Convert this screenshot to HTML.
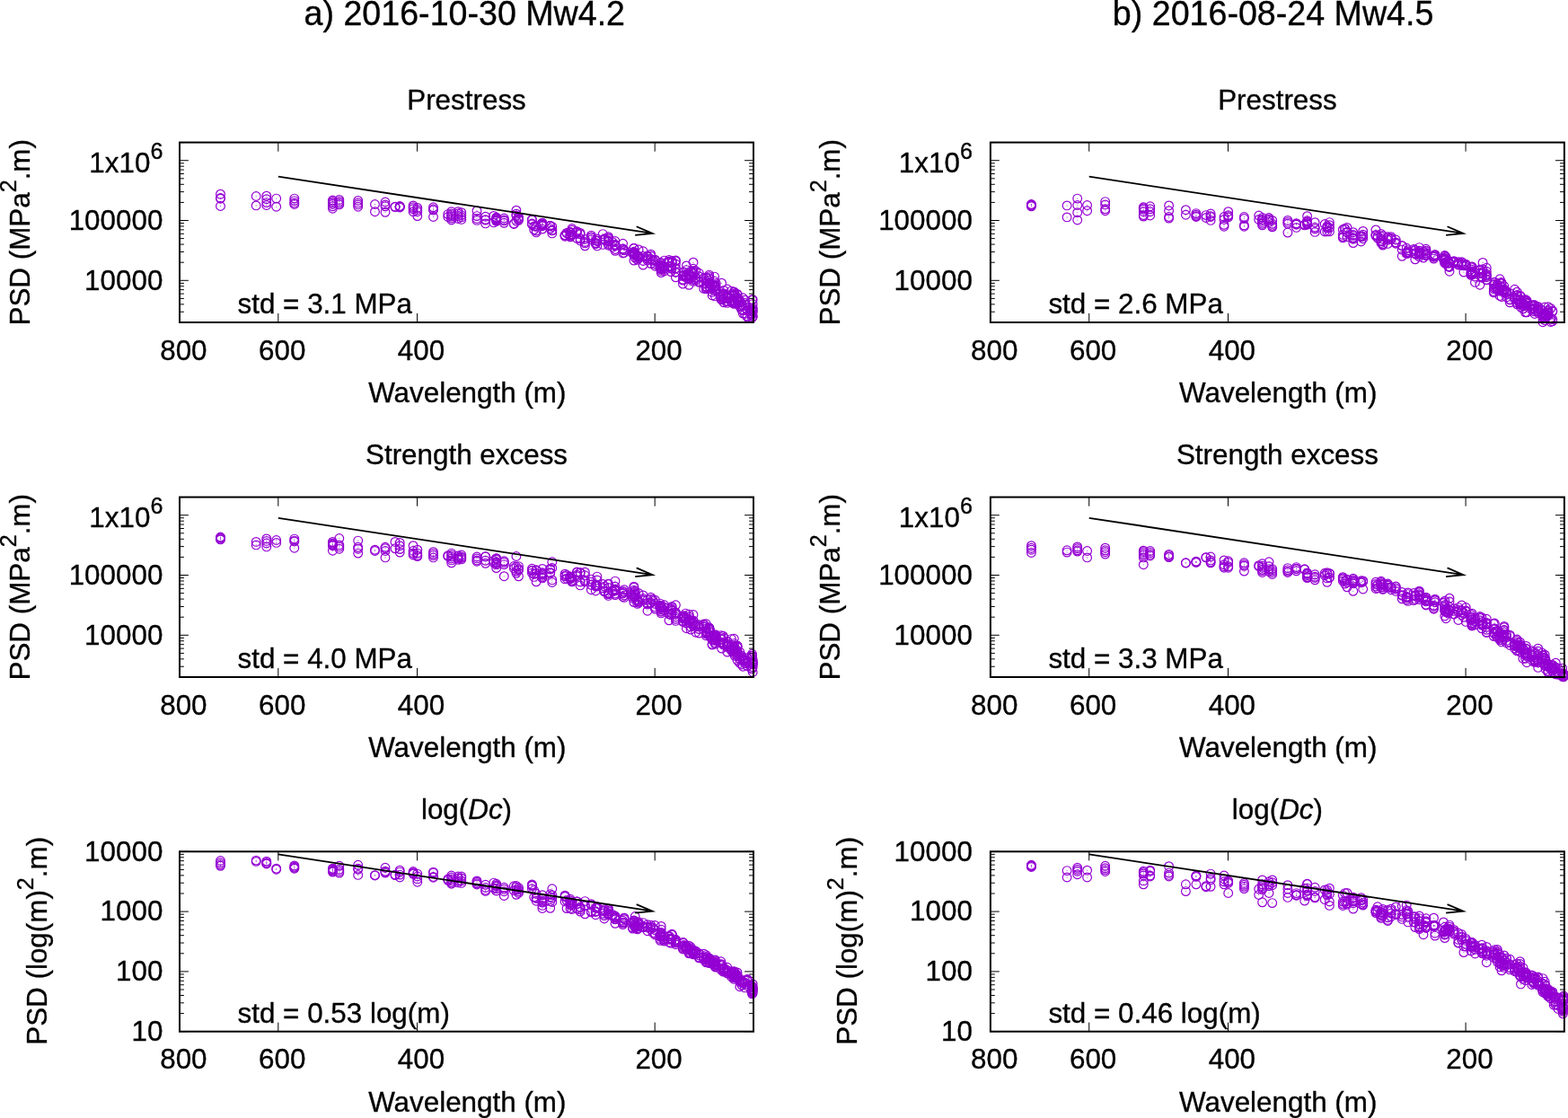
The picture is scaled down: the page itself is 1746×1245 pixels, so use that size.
<!DOCTYPE html>
<html lang="en"><head><meta charset="utf-8"><title>PSD of prestress, strength excess and log(Dc)</title>
<style>html,body{margin:0;padding:0;background:#fff}body{width:1746px;height:1245px;overflow:hidden}svg{display:block}.t{stroke:#000;stroke-width:.35px}</style>
</head><body>
<svg width="1746" height="1245" viewBox="0 0 1746 1245" font-family="'Liberation Sans', sans-serif" fill="#000">
<defs><g id="c"><circle r="4.85" fill="none" stroke="#9400d3" stroke-width="1.2"/><circle r="0.55" fill="#9400d3" opacity="0.8"/></g></defs>
<rect width="1746" height="1245" fill="#fff"/>
<text transform="translate(517.30 28.10) scale(0.99 1)" font-size="38.0" text-anchor="middle" class="t">a) 2016-10-30 Mw4.2</text>
<text transform="translate(1417.60 28.10) scale(0.99 1)" font-size="38.0" text-anchor="middle" class="t">b) 2016-08-24 Mw4.5</text>
<path d="M309.82 359.00v-10.1M309.82 158.60v10.1M464.59 359.00v-10.1M464.59 158.60v10.1M729.18 359.00v-10.1M729.18 158.60v10.1M200.00 359.00h4.9M839.00 359.00h-4.9M200.00 347.24h4.9M839.00 347.24h-4.9M200.00 338.89h4.9M839.00 338.89h-4.9M200.00 332.42h4.9M839.00 332.42h-4.9M200.00 327.13h4.9M839.00 327.13h-4.9M200.00 322.66h4.9M839.00 322.66h-4.9M200.00 318.78h4.9M839.00 318.78h-4.9M200.00 315.37h4.9M839.00 315.37h-4.9M200.00 312.31h9.9M839.00 312.31h-9.9M200.00 292.20h4.9M839.00 292.20h-4.9M200.00 280.44h4.9M839.00 280.44h-4.9M200.00 272.09h4.9M839.00 272.09h-4.9M200.00 265.62h4.9M839.00 265.62h-4.9M200.00 260.33h4.9M839.00 260.33h-4.9M200.00 255.86h4.9M839.00 255.86h-4.9M200.00 251.98h4.9M839.00 251.98h-4.9M200.00 248.57h4.9M839.00 248.57h-4.9M200.00 245.51h9.9M839.00 245.51h-9.9M200.00 225.40h4.9M839.00 225.40h-4.9M200.00 213.64h4.9M839.00 213.64h-4.9M200.00 205.29h4.9M839.00 205.29h-4.9M200.00 198.82h4.9M839.00 198.82h-4.9M200.00 193.53h4.9M839.00 193.53h-4.9M200.00 189.06h4.9M839.00 189.06h-4.9M200.00 185.18h4.9M839.00 185.18h-4.9M200.00 181.77h4.9M839.00 181.77h-4.9M200.00 178.71h9.9M839.00 178.71h-9.9M200.00 158.60h4.9M839.00 158.60h-4.9" stroke="#000" stroke-width="1" fill="none"/>
<g><use href="#c" x="245.5" y="216.2"/><use href="#c" x="245.5" y="220.5"/><use href="#c" x="245.5" y="221.2"/><use href="#c" x="245.5" y="229.5"/><use href="#c" x="285.2" y="218.5"/><use href="#c" x="285.2" y="228.9"/><use href="#c" x="296.8" y="218.2"/><use href="#c" x="296.8" y="221.7"/><use href="#c" x="296.8" y="225.6"/><use href="#c" x="296.8" y="228.5"/><use href="#c" x="307.7" y="221.1"/><use href="#c" x="307.7" y="230.2"/><use href="#c" x="327.8" y="221.1"/><use href="#c" x="327.8" y="223.6"/><use href="#c" x="327.8" y="225.9"/><use href="#c" x="327.8" y="227.5"/><use href="#c" x="370.4" y="223.0"/><use href="#c" x="370.4" y="224.4"/><use href="#c" x="370.4" y="225.9"/><use href="#c" x="370.4" y="227.5"/><use href="#c" x="370.4" y="229.8"/><use href="#c" x="370.4" y="232.2"/><use href="#c" x="377.8" y="222.4"/><use href="#c" x="377.8" y="224.4"/><use href="#c" x="377.8" y="226.3"/><use href="#c" x="377.8" y="227.9"/><use href="#c" x="398.7" y="223.4"/><use href="#c" x="398.7" y="225.9"/><use href="#c" x="398.7" y="227.9"/><use href="#c" x="398.7" y="230.2"/><use href="#c" x="417.5" y="227.5"/><use href="#c" x="417.5" y="235.7"/><use href="#c" x="429.0" y="225.0"/><use href="#c" x="429.0" y="227.9"/><use href="#c" x="429.0" y="229.8"/><use href="#c" x="429.0" y="236.3"/><use href="#c" x="440.0" y="230.2"/><use href="#c" x="440.0" y="230.6"/><use href="#c" x="445.2" y="229.5"/><use href="#c" x="445.2" y="230.0"/><use href="#c" x="445.2" y="230.4"/><use href="#c" x="445.2" y="231.0"/><use href="#c" x="460.1" y="228.9"/><use href="#c" x="460.1" y="230.8"/><use href="#c" x="460.1" y="232.8"/><use href="#c" x="460.1" y="235.7"/><use href="#c" x="464.8" y="231.4"/><use href="#c" x="464.8" y="233.7"/><use href="#c" x="464.8" y="235.7"/><use href="#c" x="464.8" y="240.6"/><use href="#c" x="482.5" y="230.8"/><use href="#c" x="482.5" y="232.8"/><use href="#c" x="482.5" y="234.1"/><use href="#c" x="482.5" y="241.5"/><use href="#c" x="498.8" y="238.6"/><use href="#c" x="498.8" y="241.5"/><use href="#c" x="502.7" y="235.7"/><use href="#c" x="502.7" y="238.0"/><use href="#c" x="502.7" y="239.6"/><use href="#c" x="502.7" y="241.1"/><use href="#c" x="502.7" y="243.1"/><use href="#c" x="502.7" y="245.0"/><use href="#c" x="510.1" y="235.7"/><use href="#c" x="510.1" y="238.0"/><use href="#c" x="510.1" y="240.6"/><use href="#c" x="510.1" y="243.5"/><use href="#c" x="513.8" y="236.7"/><use href="#c" x="513.8" y="239.6"/><use href="#c" x="513.8" y="241.9"/><use href="#c" x="513.8" y="244.4"/><use href="#c" x="531.0" y="234.7"/><use href="#c" x="531.0" y="240.6"/><use href="#c" x="531.0" y="243.5"/><use href="#c" x="531.0" y="245.4"/><use href="#c" x="540.6" y="248.9"/><use href="#c" x="540.6" y="241.2"/><use href="#c" x="540.6" y="244.6"/><use href="#c" x="540.6" y="245.1"/><use href="#c" x="549.8" y="240.4"/><use href="#c" x="549.8" y="247.9"/><use href="#c" x="552.7" y="245.1"/><use href="#c" x="552.7" y="244.6"/><use href="#c" x="552.7" y="242.7"/><use href="#c" x="552.7" y="246.3"/><use href="#c" x="552.7" y="242.0"/><use href="#c" x="552.7" y="245.6"/><use href="#c" x="552.7" y="243.7"/><use href="#c" x="552.7" y="243.5"/><use href="#c" x="561.3" y="244.9"/><use href="#c" x="561.3" y="248.3"/><use href="#c" x="561.3" y="243.0"/><use href="#c" x="561.3" y="245.9"/><use href="#c" x="572.3" y="249.5"/><use href="#c" x="572.3" y="248.9"/><use href="#c" x="574.9" y="234.2"/><use href="#c" x="574.9" y="246.2"/><use href="#c" x="574.9" y="238.2"/><use href="#c" x="574.9" y="240.2"/><use href="#c" x="577.5" y="244.2"/><use href="#c" x="577.5" y="245.3"/><use href="#c" x="577.5" y="241.4"/><use href="#c" x="577.5" y="243.0"/><use href="#c" x="592.4" y="244.4"/><use href="#c" x="592.4" y="249.0"/><use href="#c" x="592.4" y="245.0"/><use href="#c" x="592.4" y="249.8"/><use href="#c" x="594.7" y="255.8"/><use href="#c" x="594.7" y="251.9"/><use href="#c" x="597.1" y="257.1"/><use href="#c" x="597.1" y="251.4"/><use href="#c" x="597.1" y="252.4"/><use href="#c" x="597.1" y="258.9"/><use href="#c" x="603.9" y="249.8"/><use href="#c" x="603.9" y="251.7"/><use href="#c" x="603.9" y="251.3"/><use href="#c" x="603.9" y="255.1"/><use href="#c" x="603.9" y="248.1"/><use href="#c" x="603.9" y="248.4"/><use href="#c" x="603.9" y="250.2"/><use href="#c" x="603.9" y="249.5"/><use href="#c" x="612.7" y="251.5"/><use href="#c" x="612.7" y="254.6"/><use href="#c" x="612.7" y="251.4"/><use href="#c" x="612.7" y="251.4"/><use href="#c" x="614.8" y="256.9"/><use href="#c" x="614.8" y="259.9"/><use href="#c" x="614.8" y="252.4"/><use href="#c" x="614.8" y="256.3"/><use href="#c" x="629.1" y="262.2"/><use href="#c" x="629.1" y="262.0"/><use href="#c" x="629.1" y="261.8"/><use href="#c" x="629.1" y="263.2"/><use href="#c" x="631.1" y="259.4"/><use href="#c" x="631.1" y="259.7"/><use href="#c" x="635.0" y="258.5"/><use href="#c" x="635.0" y="261.8"/><use href="#c" x="635.0" y="258.7"/><use href="#c" x="635.0" y="263.1"/><use href="#c" x="635.0" y="264.0"/><use href="#c" x="635.0" y="259.0"/><use href="#c" x="636.9" y="254.5"/><use href="#c" x="636.9" y="260.8"/><use href="#c" x="636.9" y="261.7"/><use href="#c" x="636.9" y="256.3"/><use href="#c" x="642.4" y="265.4"/><use href="#c" x="642.4" y="259.2"/><use href="#c" x="642.4" y="258.3"/><use href="#c" x="642.4" y="257.6"/><use href="#c" x="646.1" y="265.8"/><use href="#c" x="646.1" y="268.0"/><use href="#c" x="646.1" y="260.8"/><use href="#c" x="646.1" y="259.4"/><use href="#c" x="651.4" y="266.4"/><use href="#c" x="651.4" y="269.5"/><use href="#c" x="651.4" y="273.8"/><use href="#c" x="651.4" y="270.9"/><use href="#c" x="658.3" y="264.7"/><use href="#c" x="658.3" y="263.6"/><use href="#c" x="658.3" y="262.1"/><use href="#c" x="658.3" y="266.8"/><use href="#c" x="663.3" y="270.9"/><use href="#c" x="663.3" y="271.7"/><use href="#c" x="663.3" y="267.7"/><use href="#c" x="663.3" y="270.4"/><use href="#c" x="664.9" y="268.3"/><use href="#c" x="664.9" y="273.9"/><use href="#c" x="664.9" y="268.2"/><use href="#c" x="664.9" y="266.0"/><use href="#c" x="671.3" y="260.6"/><use href="#c" x="671.3" y="272.4"/><use href="#c" x="672.9" y="266.5"/><use href="#c" x="672.9" y="267.2"/><use href="#c" x="672.9" y="266.6"/><use href="#c" x="672.9" y="265.9"/><use href="#c" x="677.5" y="267.8"/><use href="#c" x="677.5" y="271.6"/><use href="#c" x="677.5" y="263.7"/><use href="#c" x="677.5" y="265.1"/><use href="#c" x="677.5" y="268.3"/><use href="#c" x="677.5" y="269.2"/><use href="#c" x="677.5" y="273.2"/><use href="#c" x="677.5" y="265.7"/><use href="#c" x="682.1" y="275.2"/><use href="#c" x="682.1" y="269.7"/><use href="#c" x="685.0" y="272.4"/><use href="#c" x="685.0" y="279.3"/><use href="#c" x="685.0" y="268.5"/><use href="#c" x="685.0" y="273.7"/><use href="#c" x="685.0" y="277.5"/><use href="#c" x="685.0" y="273.4"/><use href="#c" x="685.0" y="273.7"/><use href="#c" x="685.0" y="272.5"/><use href="#c" x="693.6" y="276.9"/><use href="#c" x="693.6" y="277.4"/><use href="#c" x="693.6" y="282.0"/><use href="#c" x="693.6" y="271.3"/><use href="#c" x="695.0" y="278.6"/><use href="#c" x="695.0" y="281.4"/><use href="#c" x="695.0" y="278.7"/><use href="#c" x="695.0" y="278.5"/><use href="#c" x="704.5" y="282.2"/><use href="#c" x="704.5" y="282.1"/><use href="#c" x="705.9" y="290.1"/><use href="#c" x="705.9" y="280.8"/><use href="#c" x="705.9" y="276.1"/><use href="#c" x="705.9" y="276.7"/><use href="#c" x="705.9" y="281.1"/><use href="#c" x="705.9" y="280.3"/><use href="#c" x="705.9" y="282.4"/><use href="#c" x="705.9" y="283.6"/><use href="#c" x="707.2" y="284.0"/><use href="#c" x="707.2" y="287.1"/><use href="#c" x="707.2" y="283.2"/><use href="#c" x="707.2" y="282.0"/><use href="#c" x="709.8" y="285.8"/><use href="#c" x="709.8" y="289.3"/><use href="#c" x="709.8" y="284.8"/><use href="#c" x="709.8" y="285.4"/><use href="#c" x="711.1" y="285.2"/><use href="#c" x="711.1" y="287.9"/><use href="#c" x="711.1" y="286.0"/><use href="#c" x="711.1" y="277.9"/><use href="#c" x="716.1" y="279.8"/><use href="#c" x="716.1" y="285.5"/><use href="#c" x="716.1" y="290.5"/><use href="#c" x="716.1" y="295.1"/><use href="#c" x="721.0" y="284.9"/><use href="#c" x="721.0" y="290.0"/><use href="#c" x="721.0" y="286.2"/><use href="#c" x="721.0" y="288.3"/><use href="#c" x="724.7" y="293.6"/><use href="#c" x="724.7" y="284.9"/><use href="#c" x="724.7" y="288.4"/><use href="#c" x="724.7" y="283.2"/><use href="#c" x="727.0" y="290.4"/><use href="#c" x="727.0" y="289.5"/><use href="#c" x="729.4" y="296.2"/><use href="#c" x="729.4" y="289.1"/><use href="#c" x="729.4" y="289.9"/><use href="#c" x="729.4" y="294.2"/><use href="#c" x="735.1" y="297.7"/><use href="#c" x="735.1" y="295.8"/><use href="#c" x="735.1" y="296.4"/><use href="#c" x="735.1" y="298.8"/><use href="#c" x="735.1" y="298.8"/><use href="#c" x="735.1" y="293.1"/><use href="#c" x="736.2" y="303.6"/><use href="#c" x="736.2" y="299.6"/><use href="#c" x="736.2" y="294.6"/><use href="#c" x="736.2" y="301.4"/><use href="#c" x="736.2" y="295.5"/><use href="#c" x="736.2" y="299.6"/><use href="#c" x="736.2" y="292.5"/><use href="#c" x="736.2" y="296.7"/><use href="#c" x="739.6" y="302.0"/><use href="#c" x="739.6" y="290.1"/><use href="#c" x="739.6" y="296.6"/><use href="#c" x="739.6" y="299.4"/><use href="#c" x="745.0" y="297.0"/><use href="#c" x="745.0" y="292.4"/><use href="#c" x="745.0" y="289.5"/><use href="#c" x="745.0" y="291.3"/><use href="#c" x="747.1" y="297.1"/><use href="#c" x="747.1" y="299.1"/><use href="#c" x="747.1" y="302.6"/><use href="#c" x="747.1" y="295.9"/><use href="#c" x="748.2" y="290.5"/><use href="#c" x="748.2" y="292.4"/><use href="#c" x="748.2" y="298.8"/><use href="#c" x="748.2" y="291.9"/><use href="#c" x="752.4" y="308.8"/><use href="#c" x="752.4" y="298.8"/><use href="#c" x="752.4" y="290.8"/><use href="#c" x="752.4" y="289.9"/><use href="#c" x="752.4" y="303.0"/><use href="#c" x="752.4" y="298.9"/><use href="#c" x="752.4" y="294.0"/><use href="#c" x="752.4" y="303.2"/><use href="#c" x="760.4" y="316.1"/><use href="#c" x="760.4" y="312.1"/><use href="#c" x="760.4" y="307.5"/><use href="#c" x="760.4" y="311.3"/><use href="#c" x="761.4" y="307.1"/><use href="#c" x="761.4" y="303.1"/><use href="#c" x="761.4" y="303.0"/><use href="#c" x="761.4" y="305.9"/><use href="#c" x="763.4" y="307.3"/><use href="#c" x="763.4" y="308.4"/><use href="#c" x="764.4" y="295.9"/><use href="#c" x="764.4" y="300.6"/><use href="#c" x="764.4" y="309.5"/><use href="#c" x="764.4" y="306.4"/><use href="#c" x="767.2" y="310.8"/><use href="#c" x="767.2" y="308.0"/><use href="#c" x="767.2" y="317.3"/><use href="#c" x="767.2" y="307.0"/><use href="#c" x="767.2" y="304.4"/><use href="#c" x="767.2" y="310.1"/><use href="#c" x="769.1" y="306.5"/><use href="#c" x="769.1" y="302.1"/><use href="#c" x="769.1" y="308.3"/><use href="#c" x="769.1" y="308.0"/><use href="#c" x="772.0" y="302.9"/><use href="#c" x="772.0" y="302.0"/><use href="#c" x="772.0" y="304.5"/><use href="#c" x="772.0" y="311.6"/><use href="#c" x="772.0" y="292.2"/><use href="#c" x="772.0" y="304.7"/><use href="#c" x="772.0" y="299.3"/><use href="#c" x="772.0" y="313.4"/><use href="#c" x="774.7" y="312.0"/><use href="#c" x="774.7" y="309.1"/><use href="#c" x="774.7" y="309.7"/><use href="#c" x="774.7" y="301.7"/><use href="#c" x="778.4" y="313.4"/><use href="#c" x="778.4" y="304.3"/><use href="#c" x="778.4" y="314.3"/><use href="#c" x="778.4" y="307.7"/><use href="#c" x="783.7" y="309.8"/><use href="#c" x="783.7" y="321.4"/><use href="#c" x="783.7" y="310.1"/><use href="#c" x="783.7" y="316.1"/><use href="#c" x="786.3" y="313.1"/><use href="#c" x="786.3" y="321.7"/><use href="#c" x="786.3" y="319.3"/><use href="#c" x="786.3" y="321.6"/><use href="#c" x="786.3" y="319.6"/><use href="#c" x="786.3" y="315.5"/><use href="#c" x="786.3" y="309.2"/><use href="#c" x="786.3" y="319.6"/><use href="#c" x="789.7" y="312.1"/><use href="#c" x="789.7" y="310.0"/><use href="#c" x="789.7" y="306.1"/><use href="#c" x="789.7" y="315.8"/><use href="#c" x="789.7" y="310.0"/><use href="#c" x="789.7" y="307.8"/><use href="#c" x="790.6" y="319.7"/><use href="#c" x="790.6" y="316.8"/><use href="#c" x="790.6" y="321.6"/><use href="#c" x="790.6" y="316.2"/><use href="#c" x="793.1" y="329.0"/><use href="#c" x="793.1" y="325.4"/><use href="#c" x="793.1" y="318.7"/><use href="#c" x="793.1" y="317.0"/><use href="#c" x="795.6" y="323.6"/><use href="#c" x="795.6" y="313.1"/><use href="#c" x="795.6" y="318.2"/><use href="#c" x="795.6" y="308.1"/><use href="#c" x="796.4" y="318.0"/><use href="#c" x="796.4" y="329.9"/><use href="#c" x="796.4" y="317.9"/><use href="#c" x="796.4" y="319.5"/><use href="#c" x="797.2" y="322.8"/><use href="#c" x="797.2" y="318.9"/><use href="#c" x="797.2" y="322.2"/><use href="#c" x="797.2" y="315.4"/><use href="#c" x="802.8" y="333.1"/><use href="#c" x="802.8" y="330.4"/><use href="#c" x="802.8" y="331.4"/><use href="#c" x="802.8" y="330.0"/><use href="#c" x="803.6" y="333.9"/><use href="#c" x="803.6" y="315.2"/><use href="#c" x="805.2" y="333.5"/><use href="#c" x="805.2" y="329.3"/><use href="#c" x="805.2" y="327.9"/><use href="#c" x="805.2" y="326.7"/><use href="#c" x="806.0" y="323.4"/><use href="#c" x="806.0" y="332.1"/><use href="#c" x="806.0" y="326.9"/><use href="#c" x="806.0" y="336.8"/><use href="#c" x="809.8" y="330.8"/><use href="#c" x="809.8" y="328.7"/><use href="#c" x="809.8" y="335.6"/><use href="#c" x="809.8" y="322.0"/><use href="#c" x="809.8" y="337.4"/><use href="#c" x="809.8" y="331.7"/><use href="#c" x="809.8" y="330.4"/><use href="#c" x="809.8" y="335.8"/><use href="#c" x="814.4" y="324.1"/><use href="#c" x="814.4" y="336.1"/><use href="#c" x="815.1" y="334.7"/><use href="#c" x="815.1" y="333.9"/><use href="#c" x="815.1" y="336.9"/><use href="#c" x="815.1" y="328.8"/><use href="#c" x="817.3" y="335.4"/><use href="#c" x="817.3" y="324.9"/><use href="#c" x="817.3" y="338.3"/><use href="#c" x="817.3" y="329.7"/><use href="#c" x="817.3" y="337.4"/><use href="#c" x="817.3" y="328.4"/><use href="#c" x="817.3" y="325.4"/><use href="#c" x="817.3" y="328.8"/><use href="#c" x="818.1" y="337.7"/><use href="#c" x="818.1" y="326.9"/><use href="#c" x="818.1" y="336.9"/><use href="#c" x="818.1" y="332.0"/><use href="#c" x="821.0" y="335.5"/><use href="#c" x="821.0" y="332.2"/><use href="#c" x="821.0" y="333.6"/><use href="#c" x="821.0" y="331.3"/><use href="#c" x="821.0" y="328.0"/><use href="#c" x="821.0" y="334.4"/><use href="#c" x="821.0" y="327.4"/><use href="#c" x="821.0" y="331.6"/><use href="#c" x="823.8" y="341.1"/><use href="#c" x="823.8" y="334.4"/><use href="#c" x="823.8" y="336.2"/><use href="#c" x="823.8" y="341.1"/><use href="#c" x="825.9" y="341.4"/><use href="#c" x="825.9" y="344.7"/><use href="#c" x="825.9" y="344.9"/><use href="#c" x="825.9" y="339.3"/><use href="#c" x="827.3" y="349.1"/><use href="#c" x="827.3" y="345.6"/><use href="#c" x="827.3" y="331.8"/><use href="#c" x="827.3" y="340.3"/><use href="#c" x="829.4" y="339.5"/><use href="#c" x="829.4" y="334.2"/><use href="#c" x="829.4" y="349.5"/><use href="#c" x="829.4" y="337.5"/><use href="#c" x="832.1" y="351.9"/><use href="#c" x="832.1" y="345.1"/><use href="#c" x="832.1" y="353.1"/><use href="#c" x="832.1" y="346.1"/><use href="#c" x="836.8" y="345.4"/><use href="#c" x="836.8" y="350.6"/><use href="#c" x="837.5" y="346.7"/><use href="#c" x="837.5" y="345.0"/><use href="#c" x="837.5" y="350.0"/><use href="#c" x="837.5" y="333.8"/><use href="#c" x="837.5" y="349.0"/><use href="#c" x="837.5" y="354.0"/><use href="#c" x="838.2" y="346.3"/><use href="#c" x="838.2" y="342.9"/><use href="#c" x="838.2" y="352.2"/><use href="#c" x="838.2" y="344.6"/><use href="#c" x="838.2" y="338.6"/><use href="#c" x="838.2" y="352.6"/><use href="#c" x="838.2" y="333.7"/><use href="#c" x="838.2" y="347.5"/></g>
<path d="M309.82 196.58L726.61 259.94M707.22 261.93L726.61 259.94L708.68 252.27" stroke="#000" stroke-width="1.8" fill="none" stroke-linejoin="miter" stroke-miterlimit="10"/>
<rect x="200.00" y="158.60" width="639.00" height="200.40" fill="none" stroke="#000" stroke-width="2"/>
<text transform="translate(264.50 349.00) scale(0.981 1)" font-size="32.0" text-anchor="start" class="t">std = 3.1 MPa</text>
<text transform="translate(204.40 400.70) scale(0.981 1)" font-size="32.0" text-anchor="middle" class="t">800</text>
<text transform="translate(314.22 400.70) scale(0.981 1)" font-size="32.0" text-anchor="middle" class="t">600</text>
<text transform="translate(468.99 400.70) scale(0.981 1)" font-size="32.0" text-anchor="middle" class="t">400</text>
<text transform="translate(733.58 400.70) scale(0.981 1)" font-size="32.0" text-anchor="middle" class="t">200</text>
<text transform="translate(520.30 447.90) scale(0.981 1)" font-size="32.0" text-anchor="middle" class="t">Wavelength (m)</text>
<text transform="translate(519.50 122.30) scale(0.981 1)" font-size="32.0" text-anchor="middle" class="t">Prestress</text>
<text transform="translate(181.40 192.01) scale(0.981 1)" font-size="32.0" text-anchor="end" class="t">1x10<tspan dy="-15" font-size="25.6">6</tspan></text>
<text transform="translate(181.40 255.71) scale(0.981 1)" font-size="32.0" text-anchor="end" class="t">100000</text>
<text transform="translate(181.40 322.51) scale(0.981 1)" font-size="32.0" text-anchor="end" class="t">10000</text>
<text transform="translate(32.50 258.80) rotate(-90) scale(0.981 1)" font-size="32.0" text-anchor="middle" class="t">PSD (MPa<tspan dy="-15" font-size="25.6">2</tspan><tspan dy="15">.m)</tspan></text>
<path d="M1212.72 359.00v-10.1M1212.72 158.60v10.1M1367.49 359.00v-10.1M1367.49 158.60v10.1M1632.08 359.00v-10.1M1632.08 158.60v10.1M1102.90 359.00h4.9M1741.90 359.00h-4.9M1102.90 347.24h4.9M1741.90 347.24h-4.9M1102.90 338.89h4.9M1741.90 338.89h-4.9M1102.90 332.42h4.9M1741.90 332.42h-4.9M1102.90 327.13h4.9M1741.90 327.13h-4.9M1102.90 322.66h4.9M1741.90 322.66h-4.9M1102.90 318.78h4.9M1741.90 318.78h-4.9M1102.90 315.37h4.9M1741.90 315.37h-4.9M1102.90 312.31h9.9M1741.90 312.31h-9.9M1102.90 292.20h4.9M1741.90 292.20h-4.9M1102.90 280.44h4.9M1741.90 280.44h-4.9M1102.90 272.09h4.9M1741.90 272.09h-4.9M1102.90 265.62h4.9M1741.90 265.62h-4.9M1102.90 260.33h4.9M1741.90 260.33h-4.9M1102.90 255.86h4.9M1741.90 255.86h-4.9M1102.90 251.98h4.9M1741.90 251.98h-4.9M1102.90 248.57h4.9M1741.90 248.57h-4.9M1102.90 245.51h9.9M1741.90 245.51h-9.9M1102.90 225.40h4.9M1741.90 225.40h-4.9M1102.90 213.64h4.9M1741.90 213.64h-4.9M1102.90 205.29h4.9M1741.90 205.29h-4.9M1102.90 198.82h4.9M1741.90 198.82h-4.9M1102.90 193.53h4.9M1741.90 193.53h-4.9M1102.90 189.06h4.9M1741.90 189.06h-4.9M1102.90 185.18h4.9M1741.90 185.18h-4.9M1102.90 181.77h4.9M1741.90 181.77h-4.9M1102.90 178.71h9.9M1741.90 178.71h-9.9M1102.90 158.60h4.9M1741.90 158.60h-4.9" stroke="#000" stroke-width="1" fill="none"/>
<g><use href="#c" x="1148.4" y="227.5"/><use href="#c" x="1148.4" y="227.9"/><use href="#c" x="1148.4" y="228.9"/><use href="#c" x="1148.4" y="229.8"/><use href="#c" x="1188.1" y="228.9"/><use href="#c" x="1188.1" y="241.9"/><use href="#c" x="1199.7" y="221.1"/><use href="#c" x="1199.7" y="228.5"/><use href="#c" x="1199.7" y="236.7"/><use href="#c" x="1199.7" y="245.0"/><use href="#c" x="1210.6" y="228.5"/><use href="#c" x="1210.6" y="234.7"/><use href="#c" x="1230.7" y="224.6"/><use href="#c" x="1230.7" y="227.9"/><use href="#c" x="1230.7" y="232.8"/><use href="#c" x="1230.7" y="234.7"/><use href="#c" x="1273.3" y="230.8"/><use href="#c" x="1273.3" y="231.8"/><use href="#c" x="1273.3" y="233.3"/><use href="#c" x="1273.3" y="235.7"/><use href="#c" x="1273.3" y="239.6"/><use href="#c" x="1273.3" y="241.1"/><use href="#c" x="1280.7" y="229.8"/><use href="#c" x="1280.7" y="232.8"/><use href="#c" x="1280.7" y="235.7"/><use href="#c" x="1280.7" y="240.0"/><use href="#c" x="1301.6" y="228.9"/><use href="#c" x="1301.6" y="234.7"/><use href="#c" x="1301.6" y="241.5"/><use href="#c" x="1301.6" y="243.1"/><use href="#c" x="1320.4" y="233.7"/><use href="#c" x="1320.4" y="239.2"/><use href="#c" x="1331.9" y="237.6"/><use href="#c" x="1331.9" y="239.2"/><use href="#c" x="1331.9" y="240.6"/><use href="#c" x="1331.9" y="241.5"/><use href="#c" x="1342.9" y="239.6"/><use href="#c" x="1342.9" y="242.5"/><use href="#c" x="1348.1" y="238.0"/><use href="#c" x="1348.1" y="240.6"/><use href="#c" x="1348.1" y="241.5"/><use href="#c" x="1348.1" y="245.4"/><use href="#c" x="1363.0" y="241.5"/><use href="#c" x="1363.0" y="244.4"/><use href="#c" x="1363.0" y="250.3"/><use href="#c" x="1363.0" y="252.2"/><use href="#c" x="1367.7" y="235.7"/><use href="#c" x="1367.7" y="239.6"/><use href="#c" x="1367.7" y="240.6"/><use href="#c" x="1367.7" y="241.9"/><use href="#c" x="1385.4" y="241.5"/><use href="#c" x="1385.4" y="243.5"/><use href="#c" x="1385.4" y="250.9"/><use href="#c" x="1385.4" y="252.2"/><use href="#c" x="1401.7" y="240.0"/><use href="#c" x="1401.7" y="244.4"/><use href="#c" x="1405.6" y="242.5"/><use href="#c" x="1405.6" y="244.4"/><use href="#c" x="1405.6" y="245.4"/><use href="#c" x="1405.6" y="247.4"/><use href="#c" x="1405.6" y="249.3"/><use href="#c" x="1405.6" y="250.9"/><use href="#c" x="1413.0" y="242.5"/><use href="#c" x="1413.0" y="243.9"/><use href="#c" x="1413.0" y="245.4"/><use href="#c" x="1413.0" y="247.4"/><use href="#c" x="1416.7" y="245.4"/><use href="#c" x="1416.7" y="249.3"/><use href="#c" x="1416.7" y="251.3"/><use href="#c" x="1416.7" y="252.8"/><use href="#c" x="1433.9" y="245.4"/><use href="#c" x="1433.9" y="247.4"/><use href="#c" x="1433.9" y="249.3"/><use href="#c" x="1433.9" y="259.1"/><use href="#c" x="1443.5" y="250.2"/><use href="#c" x="1443.5" y="253.4"/><use href="#c" x="1443.5" y="248.7"/><use href="#c" x="1443.5" y="249.4"/><use href="#c" x="1452.7" y="250.1"/><use href="#c" x="1452.7" y="250.9"/><use href="#c" x="1455.6" y="240.7"/><use href="#c" x="1455.6" y="247.3"/><use href="#c" x="1455.6" y="250.1"/><use href="#c" x="1455.6" y="246.9"/><use href="#c" x="1455.6" y="249.9"/><use href="#c" x="1455.6" y="245.8"/><use href="#c" x="1455.6" y="248.8"/><use href="#c" x="1455.6" y="248.7"/><use href="#c" x="1464.2" y="258.4"/><use href="#c" x="1464.2" y="253.1"/><use href="#c" x="1464.2" y="254.8"/><use href="#c" x="1464.2" y="247.7"/><use href="#c" x="1475.2" y="249.5"/><use href="#c" x="1475.2" y="258.0"/><use href="#c" x="1477.8" y="254.1"/><use href="#c" x="1477.8" y="251.8"/><use href="#c" x="1477.8" y="257.8"/><use href="#c" x="1477.8" y="253.3"/><use href="#c" x="1480.4" y="257.9"/><use href="#c" x="1480.4" y="247.6"/><use href="#c" x="1480.4" y="250.7"/><use href="#c" x="1480.4" y="253.7"/><use href="#c" x="1495.3" y="261.4"/><use href="#c" x="1495.3" y="263.6"/><use href="#c" x="1495.3" y="255.7"/><use href="#c" x="1495.3" y="264.8"/><use href="#c" x="1497.6" y="255.1"/><use href="#c" x="1497.6" y="254.4"/><use href="#c" x="1500.0" y="263.7"/><use href="#c" x="1500.0" y="258.2"/><use href="#c" x="1500.0" y="258.9"/><use href="#c" x="1500.0" y="253.4"/><use href="#c" x="1506.8" y="262.4"/><use href="#c" x="1506.8" y="264.6"/><use href="#c" x="1506.8" y="270.6"/><use href="#c" x="1506.8" y="265.2"/><use href="#c" x="1506.8" y="261.5"/><use href="#c" x="1506.8" y="258.7"/><use href="#c" x="1506.8" y="266.1"/><use href="#c" x="1506.8" y="266.0"/><use href="#c" x="1515.6" y="263.8"/><use href="#c" x="1515.6" y="262.9"/><use href="#c" x="1515.6" y="262.9"/><use href="#c" x="1515.6" y="269.0"/><use href="#c" x="1517.7" y="265.7"/><use href="#c" x="1517.7" y="263.1"/><use href="#c" x="1517.7" y="261.2"/><use href="#c" x="1517.7" y="257.4"/><use href="#c" x="1532.0" y="261.6"/><use href="#c" x="1532.0" y="262.6"/><use href="#c" x="1532.0" y="261.6"/><use href="#c" x="1532.0" y="255.9"/><use href="#c" x="1534.0" y="263.0"/><use href="#c" x="1534.0" y="265.1"/><use href="#c" x="1537.9" y="260.5"/><use href="#c" x="1537.9" y="268.3"/><use href="#c" x="1537.9" y="263.5"/><use href="#c" x="1537.9" y="268.6"/><use href="#c" x="1537.9" y="265.9"/><use href="#c" x="1537.9" y="270.4"/><use href="#c" x="1539.8" y="271.7"/><use href="#c" x="1539.8" y="273.1"/><use href="#c" x="1539.8" y="271.7"/><use href="#c" x="1539.8" y="262.4"/><use href="#c" x="1545.3" y="271.4"/><use href="#c" x="1545.3" y="267.2"/><use href="#c" x="1545.3" y="263.8"/><use href="#c" x="1545.3" y="265.1"/><use href="#c" x="1549.0" y="263.7"/><use href="#c" x="1549.0" y="266.6"/><use href="#c" x="1549.0" y="265.8"/><use href="#c" x="1549.0" y="265.5"/><use href="#c" x="1554.3" y="270.2"/><use href="#c" x="1554.3" y="271.2"/><use href="#c" x="1554.3" y="267.0"/><use href="#c" x="1554.3" y="269.9"/><use href="#c" x="1561.2" y="285.3"/><use href="#c" x="1561.2" y="273.6"/><use href="#c" x="1561.2" y="278.1"/><use href="#c" x="1561.2" y="273.7"/><use href="#c" x="1566.2" y="282.3"/><use href="#c" x="1566.2" y="280.9"/><use href="#c" x="1566.2" y="281.5"/><use href="#c" x="1566.2" y="276.3"/><use href="#c" x="1567.8" y="278.8"/><use href="#c" x="1567.8" y="281.1"/><use href="#c" x="1567.8" y="280.5"/><use href="#c" x="1567.8" y="282.2"/><use href="#c" x="1574.2" y="277.5"/><use href="#c" x="1574.2" y="279.5"/><use href="#c" x="1575.8" y="281.8"/><use href="#c" x="1575.8" y="288.8"/><use href="#c" x="1575.8" y="283.0"/><use href="#c" x="1575.8" y="278.3"/><use href="#c" x="1580.4" y="280.7"/><use href="#c" x="1580.4" y="282.8"/><use href="#c" x="1580.4" y="284.2"/><use href="#c" x="1580.4" y="275.6"/><use href="#c" x="1580.4" y="285.9"/><use href="#c" x="1580.4" y="282.5"/><use href="#c" x="1580.4" y="279.2"/><use href="#c" x="1580.4" y="281.9"/><use href="#c" x="1585.0" y="280.1"/><use href="#c" x="1585.0" y="287.1"/><use href="#c" x="1587.9" y="284.1"/><use href="#c" x="1587.9" y="279.7"/><use href="#c" x="1587.9" y="281.6"/><use href="#c" x="1587.9" y="284.7"/><use href="#c" x="1587.9" y="277.3"/><use href="#c" x="1587.9" y="279.1"/><use href="#c" x="1587.9" y="283.3"/><use href="#c" x="1587.9" y="281.7"/><use href="#c" x="1596.5" y="288.1"/><use href="#c" x="1596.5" y="285.7"/><use href="#c" x="1596.5" y="286.3"/><use href="#c" x="1596.5" y="285.3"/><use href="#c" x="1597.9" y="283.6"/><use href="#c" x="1597.9" y="284.9"/><use href="#c" x="1597.9" y="285.2"/><use href="#c" x="1597.9" y="283.7"/><use href="#c" x="1607.4" y="287.3"/><use href="#c" x="1607.4" y="288.7"/><use href="#c" x="1608.8" y="290.1"/><use href="#c" x="1608.8" y="284.5"/><use href="#c" x="1608.8" y="292.7"/><use href="#c" x="1608.8" y="289.3"/><use href="#c" x="1608.8" y="284.9"/><use href="#c" x="1608.8" y="288.3"/><use href="#c" x="1608.8" y="293.1"/><use href="#c" x="1608.8" y="286.6"/><use href="#c" x="1610.1" y="291.6"/><use href="#c" x="1610.1" y="292.7"/><use href="#c" x="1610.1" y="286.1"/><use href="#c" x="1610.1" y="288.5"/><use href="#c" x="1612.7" y="292.8"/><use href="#c" x="1612.7" y="293.0"/><use href="#c" x="1612.7" y="296.8"/><use href="#c" x="1612.7" y="290.3"/><use href="#c" x="1614.0" y="297.5"/><use href="#c" x="1614.0" y="302.2"/><use href="#c" x="1614.0" y="293.0"/><use href="#c" x="1614.0" y="296.9"/><use href="#c" x="1619.0" y="291.6"/><use href="#c" x="1619.0" y="292.3"/><use href="#c" x="1619.0" y="290.8"/><use href="#c" x="1619.0" y="291.2"/><use href="#c" x="1623.9" y="293.2"/><use href="#c" x="1623.9" y="295.0"/><use href="#c" x="1623.9" y="294.7"/><use href="#c" x="1623.9" y="291.7"/><use href="#c" x="1627.6" y="293.0"/><use href="#c" x="1627.6" y="291.7"/><use href="#c" x="1627.6" y="295.5"/><use href="#c" x="1627.6" y="294.5"/><use href="#c" x="1629.9" y="303.1"/><use href="#c" x="1629.9" y="295.9"/><use href="#c" x="1632.3" y="295.7"/><use href="#c" x="1632.3" y="295.9"/><use href="#c" x="1632.3" y="294.3"/><use href="#c" x="1632.3" y="294.9"/><use href="#c" x="1638.0" y="303.3"/><use href="#c" x="1638.0" y="297.7"/><use href="#c" x="1638.0" y="306.4"/><use href="#c" x="1638.0" y="299.9"/><use href="#c" x="1638.0" y="304.4"/><use href="#c" x="1638.0" y="305.3"/><use href="#c" x="1639.1" y="303.2"/><use href="#c" x="1639.1" y="297.1"/><use href="#c" x="1639.1" y="305.8"/><use href="#c" x="1639.1" y="304.5"/><use href="#c" x="1639.1" y="305.4"/><use href="#c" x="1639.1" y="297.0"/><use href="#c" x="1639.1" y="302.2"/><use href="#c" x="1639.1" y="305.6"/><use href="#c" x="1642.5" y="314.4"/><use href="#c" x="1642.5" y="303.4"/><use href="#c" x="1642.5" y="308.1"/><use href="#c" x="1642.5" y="303.8"/><use href="#c" x="1647.9" y="304.5"/><use href="#c" x="1647.9" y="317.2"/><use href="#c" x="1647.9" y="301.2"/><use href="#c" x="1647.9" y="300.2"/><use href="#c" x="1650.0" y="308.3"/><use href="#c" x="1650.0" y="304.5"/><use href="#c" x="1650.0" y="309.2"/><use href="#c" x="1650.0" y="308.6"/><use href="#c" x="1651.1" y="304.1"/><use href="#c" x="1651.1" y="299.8"/><use href="#c" x="1651.1" y="292.4"/><use href="#c" x="1651.1" y="302.5"/><use href="#c" x="1655.3" y="302.3"/><use href="#c" x="1655.3" y="308.7"/><use href="#c" x="1655.3" y="298.3"/><use href="#c" x="1655.3" y="306.6"/><use href="#c" x="1655.3" y="305.3"/><use href="#c" x="1655.3" y="311.5"/><use href="#c" x="1655.3" y="307.4"/><use href="#c" x="1655.3" y="311.8"/><use href="#c" x="1663.3" y="324.5"/><use href="#c" x="1663.3" y="321.7"/><use href="#c" x="1663.3" y="325.8"/><use href="#c" x="1663.3" y="316.8"/><use href="#c" x="1664.3" y="314.6"/><use href="#c" x="1664.3" y="314.2"/><use href="#c" x="1664.3" y="320.6"/><use href="#c" x="1664.3" y="316.9"/><use href="#c" x="1666.3" y="319.1"/><use href="#c" x="1666.3" y="321.1"/><use href="#c" x="1667.3" y="322.9"/><use href="#c" x="1667.3" y="316.6"/><use href="#c" x="1667.3" y="317.1"/><use href="#c" x="1667.3" y="321.3"/><use href="#c" x="1670.1" y="315.2"/><use href="#c" x="1670.1" y="324.1"/><use href="#c" x="1670.1" y="323.2"/><use href="#c" x="1670.1" y="318.3"/><use href="#c" x="1670.1" y="310.8"/><use href="#c" x="1670.1" y="329.4"/><use href="#c" x="1672.0" y="319.5"/><use href="#c" x="1672.0" y="314.5"/><use href="#c" x="1672.0" y="315.7"/><use href="#c" x="1672.0" y="330.5"/><use href="#c" x="1674.9" y="318.8"/><use href="#c" x="1674.9" y="325.3"/><use href="#c" x="1674.9" y="324.9"/><use href="#c" x="1674.9" y="322.7"/><use href="#c" x="1674.9" y="324.2"/><use href="#c" x="1674.9" y="322.0"/><use href="#c" x="1674.9" y="324.7"/><use href="#c" x="1674.9" y="322.9"/><use href="#c" x="1677.6" y="327.4"/><use href="#c" x="1677.6" y="331.0"/><use href="#c" x="1677.6" y="324.5"/><use href="#c" x="1677.6" y="325.7"/><use href="#c" x="1681.3" y="333.4"/><use href="#c" x="1681.3" y="334.0"/><use href="#c" x="1681.3" y="336.8"/><use href="#c" x="1681.3" y="326.7"/><use href="#c" x="1686.6" y="322.3"/><use href="#c" x="1686.6" y="331.3"/><use href="#c" x="1686.6" y="331.4"/><use href="#c" x="1686.6" y="332.6"/><use href="#c" x="1689.2" y="328.6"/><use href="#c" x="1689.2" y="328.8"/><use href="#c" x="1689.2" y="325.2"/><use href="#c" x="1689.2" y="334.1"/><use href="#c" x="1689.2" y="337.0"/><use href="#c" x="1689.2" y="329.2"/><use href="#c" x="1689.2" y="333.2"/><use href="#c" x="1689.2" y="338.8"/><use href="#c" x="1692.6" y="337.0"/><use href="#c" x="1692.6" y="329.1"/><use href="#c" x="1692.6" y="333.1"/><use href="#c" x="1692.6" y="334.1"/><use href="#c" x="1692.6" y="339.0"/><use href="#c" x="1692.6" y="337.7"/><use href="#c" x="1693.5" y="338.9"/><use href="#c" x="1693.5" y="342.2"/><use href="#c" x="1693.5" y="336.7"/><use href="#c" x="1693.5" y="330.4"/><use href="#c" x="1696.0" y="343.8"/><use href="#c" x="1696.0" y="340.7"/><use href="#c" x="1696.0" y="341.0"/><use href="#c" x="1696.0" y="338.2"/><use href="#c" x="1698.5" y="347.8"/><use href="#c" x="1698.5" y="333.4"/><use href="#c" x="1698.5" y="335.8"/><use href="#c" x="1698.5" y="339.4"/><use href="#c" x="1699.3" y="335.5"/><use href="#c" x="1699.3" y="335.0"/><use href="#c" x="1699.3" y="341.0"/><use href="#c" x="1699.3" y="337.5"/><use href="#c" x="1700.1" y="337.4"/><use href="#c" x="1700.1" y="347.8"/><use href="#c" x="1700.1" y="334.6"/><use href="#c" x="1700.1" y="337.7"/><use href="#c" x="1705.7" y="342.7"/><use href="#c" x="1705.7" y="345.1"/><use href="#c" x="1705.7" y="339.6"/><use href="#c" x="1705.7" y="340.9"/><use href="#c" x="1706.5" y="340.6"/><use href="#c" x="1706.5" y="343.7"/><use href="#c" x="1708.1" y="340.3"/><use href="#c" x="1708.1" y="343.9"/><use href="#c" x="1708.1" y="339.7"/><use href="#c" x="1708.1" y="346.7"/><use href="#c" x="1708.9" y="343.9"/><use href="#c" x="1708.9" y="349.5"/><use href="#c" x="1708.9" y="343.7"/><use href="#c" x="1708.9" y="339.8"/><use href="#c" x="1712.7" y="348.5"/><use href="#c" x="1712.7" y="341.4"/><use href="#c" x="1712.7" y="347.1"/><use href="#c" x="1712.7" y="343.6"/><use href="#c" x="1712.7" y="344.4"/><use href="#c" x="1712.7" y="344.4"/><use href="#c" x="1712.7" y="346.6"/><use href="#c" x="1712.7" y="342.5"/><use href="#c" x="1717.3" y="348.8"/><use href="#c" x="1717.3" y="345.5"/><use href="#c" x="1718.0" y="352.7"/><use href="#c" x="1718.0" y="358.7"/><use href="#c" x="1718.0" y="350.8"/><use href="#c" x="1718.0" y="355.0"/><use href="#c" x="1720.2" y="351.2"/><use href="#c" x="1720.2" y="350.3"/><use href="#c" x="1720.2" y="342.0"/><use href="#c" x="1720.2" y="356.7"/><use href="#c" x="1720.2" y="350.2"/><use href="#c" x="1720.2" y="354.3"/><use href="#c" x="1720.2" y="353.1"/><use href="#c" x="1720.2" y="349.1"/><use href="#c" x="1721.0" y="349.5"/><use href="#c" x="1721.0" y="348.8"/><use href="#c" x="1721.0" y="350.5"/><use href="#c" x="1721.0" y="351.8"/><use href="#c" x="1723.9" y="349.3"/><use href="#c" x="1723.9" y="346.6"/><use href="#c" x="1723.9" y="351.2"/><use href="#c" x="1723.9" y="351.3"/><use href="#c" x="1723.9" y="345.1"/><use href="#c" x="1723.9" y="341.8"/><use href="#c" x="1723.9" y="347.9"/><use href="#c" x="1723.9" y="349.0"/><use href="#c" x="1726.7" y="354.3"/><use href="#c" x="1726.7" y="343.4"/><use href="#c" x="1726.7" y="355.1"/><use href="#c" x="1726.7" y="358.5"/><use href="#c" x="1728.8" y="355.5"/><use href="#c" x="1728.8" y="347.1"/><use href="#c" x="1728.8" y="357.7"/><use href="#c" x="1728.8" y="346.2"/></g>
<path d="M1212.72 196.58L1629.51 259.94M1610.12 261.93L1629.51 259.94L1611.58 252.27" stroke="#000" stroke-width="1.8" fill="none" stroke-linejoin="miter" stroke-miterlimit="10"/>
<rect x="1102.90" y="158.60" width="639.00" height="200.40" fill="none" stroke="#000" stroke-width="2"/>
<text transform="translate(1167.40 349.00) scale(0.981 1)" font-size="32.0" text-anchor="start" class="t">std = 2.6 MPa</text>
<text transform="translate(1107.30 400.70) scale(0.981 1)" font-size="32.0" text-anchor="middle" class="t">800</text>
<text transform="translate(1217.12 400.70) scale(0.981 1)" font-size="32.0" text-anchor="middle" class="t">600</text>
<text transform="translate(1371.89 400.70) scale(0.981 1)" font-size="32.0" text-anchor="middle" class="t">400</text>
<text transform="translate(1636.48 400.70) scale(0.981 1)" font-size="32.0" text-anchor="middle" class="t">200</text>
<text transform="translate(1423.20 447.90) scale(0.981 1)" font-size="32.0" text-anchor="middle" class="t">Wavelength (m)</text>
<text transform="translate(1422.40 122.30) scale(0.981 1)" font-size="32.0" text-anchor="middle" class="t">Prestress</text>
<text transform="translate(1082.90 192.01) scale(0.981 1)" font-size="32.0" text-anchor="end" class="t">1x10<tspan dy="-15" font-size="25.6">6</tspan></text>
<text transform="translate(1082.90 255.71) scale(0.981 1)" font-size="32.0" text-anchor="end" class="t">100000</text>
<text transform="translate(1082.90 322.51) scale(0.981 1)" font-size="32.0" text-anchor="end" class="t">10000</text>
<text transform="translate(935.40 258.80) rotate(-90) scale(0.981 1)" font-size="32.0" text-anchor="middle" class="t">PSD (MPa<tspan dy="-15" font-size="25.6">2</tspan><tspan dy="15">.m)</tspan></text>
<path d="M309.82 754.00v-10.1M309.82 553.60v10.1M464.59 754.00v-10.1M464.59 553.60v10.1M729.18 754.00v-10.1M729.18 553.60v10.1M200.00 754.00h4.9M839.00 754.00h-4.9M200.00 742.24h4.9M839.00 742.24h-4.9M200.00 733.89h4.9M839.00 733.89h-4.9M200.00 727.42h4.9M839.00 727.42h-4.9M200.00 722.13h4.9M839.00 722.13h-4.9M200.00 717.66h4.9M839.00 717.66h-4.9M200.00 713.78h4.9M839.00 713.78h-4.9M200.00 710.37h4.9M839.00 710.37h-4.9M200.00 707.31h9.9M839.00 707.31h-9.9M200.00 687.20h4.9M839.00 687.20h-4.9M200.00 675.44h4.9M839.00 675.44h-4.9M200.00 667.09h4.9M839.00 667.09h-4.9M200.00 660.62h4.9M839.00 660.62h-4.9M200.00 655.33h4.9M839.00 655.33h-4.9M200.00 650.86h4.9M839.00 650.86h-4.9M200.00 646.98h4.9M839.00 646.98h-4.9M200.00 643.57h4.9M839.00 643.57h-4.9M200.00 640.51h9.9M839.00 640.51h-9.9M200.00 620.40h4.9M839.00 620.40h-4.9M200.00 608.64h4.9M839.00 608.64h-4.9M200.00 600.29h4.9M839.00 600.29h-4.9M200.00 593.82h4.9M839.00 593.82h-4.9M200.00 588.53h4.9M839.00 588.53h-4.9M200.00 584.06h4.9M839.00 584.06h-4.9M200.00 580.18h4.9M839.00 580.18h-4.9M200.00 576.77h4.9M839.00 576.77h-4.9M200.00 573.71h9.9M839.00 573.71h-9.9M200.00 553.60h4.9M839.00 553.60h-4.9" stroke="#000" stroke-width="1" fill="none"/>
<g><use href="#c" x="245.5" y="598.0"/><use href="#c" x="245.5" y="598.9"/><use href="#c" x="245.5" y="599.9"/><use href="#c" x="245.5" y="600.9"/><use href="#c" x="285.2" y="603.4"/><use href="#c" x="285.2" y="606.9"/><use href="#c" x="296.8" y="599.9"/><use href="#c" x="296.8" y="602.4"/><use href="#c" x="296.8" y="605.0"/><use href="#c" x="296.8" y="608.9"/><use href="#c" x="307.7" y="601.5"/><use href="#c" x="307.7" y="604.4"/><use href="#c" x="327.8" y="600.1"/><use href="#c" x="327.8" y="602.1"/><use href="#c" x="327.8" y="603.0"/><use href="#c" x="327.8" y="610.2"/><use href="#c" x="370.4" y="603.4"/><use href="#c" x="370.4" y="605.0"/><use href="#c" x="370.4" y="606.0"/><use href="#c" x="370.4" y="606.9"/><use href="#c" x="370.4" y="607.7"/><use href="#c" x="370.4" y="613.2"/><use href="#c" x="377.8" y="599.5"/><use href="#c" x="377.8" y="606.9"/><use href="#c" x="377.8" y="608.9"/><use href="#c" x="377.8" y="611.2"/><use href="#c" x="398.7" y="602.1"/><use href="#c" x="398.7" y="609.3"/><use href="#c" x="398.7" y="611.2"/><use href="#c" x="398.7" y="616.1"/><use href="#c" x="417.5" y="612.2"/><use href="#c" x="417.5" y="613.5"/><use href="#c" x="429.0" y="609.3"/><use href="#c" x="429.0" y="610.8"/><use href="#c" x="429.0" y="613.5"/><use href="#c" x="429.0" y="620.9"/><use href="#c" x="440.0" y="603.4"/><use href="#c" x="440.0" y="610.8"/><use href="#c" x="445.2" y="604.4"/><use href="#c" x="445.2" y="607.7"/><use href="#c" x="445.2" y="611.6"/><use href="#c" x="445.2" y="615.1"/><use href="#c" x="460.1" y="607.7"/><use href="#c" x="460.1" y="613.5"/><use href="#c" x="460.1" y="616.1"/><use href="#c" x="460.1" y="618.0"/><use href="#c" x="464.8" y="612.2"/><use href="#c" x="464.8" y="616.1"/><use href="#c" x="464.8" y="618.6"/><use href="#c" x="464.8" y="619.6"/><use href="#c" x="482.5" y="614.7"/><use href="#c" x="482.5" y="616.7"/><use href="#c" x="482.5" y="618.6"/><use href="#c" x="482.5" y="620.9"/><use href="#c" x="498.8" y="618.6"/><use href="#c" x="498.8" y="619.4"/><use href="#c" x="502.7" y="616.1"/><use href="#c" x="502.7" y="618.0"/><use href="#c" x="502.7" y="620.0"/><use href="#c" x="502.7" y="621.9"/><use href="#c" x="502.7" y="623.9"/><use href="#c" x="502.7" y="626.8"/><use href="#c" x="510.1" y="619.0"/><use href="#c" x="510.1" y="620.6"/><use href="#c" x="510.1" y="621.9"/><use href="#c" x="510.1" y="623.3"/><use href="#c" x="513.8" y="618.0"/><use href="#c" x="513.8" y="620.0"/><use href="#c" x="513.8" y="621.3"/><use href="#c" x="513.8" y="622.9"/><use href="#c" x="531.0" y="620.0"/><use href="#c" x="531.0" y="621.9"/><use href="#c" x="531.0" y="623.9"/><use href="#c" x="531.0" y="625.2"/><use href="#c" x="540.6" y="627.3"/><use href="#c" x="540.6" y="619.6"/><use href="#c" x="540.6" y="624.3"/><use href="#c" x="540.6" y="620.0"/><use href="#c" x="549.8" y="624.3"/><use href="#c" x="549.8" y="626.6"/><use href="#c" x="552.7" y="625.8"/><use href="#c" x="552.7" y="621.6"/><use href="#c" x="552.7" y="623.2"/><use href="#c" x="552.7" y="626.5"/><use href="#c" x="552.7" y="627.7"/><use href="#c" x="552.7" y="632.6"/><use href="#c" x="552.7" y="628.9"/><use href="#c" x="552.7" y="622.0"/><use href="#c" x="561.3" y="626.3"/><use href="#c" x="561.3" y="624.8"/><use href="#c" x="561.3" y="641.7"/><use href="#c" x="561.3" y="628.6"/><use href="#c" x="572.3" y="633.0"/><use href="#c" x="572.3" y="630.5"/><use href="#c" x="574.9" y="619.5"/><use href="#c" x="574.9" y="636.1"/><use href="#c" x="574.9" y="631.0"/><use href="#c" x="574.9" y="638.3"/><use href="#c" x="577.5" y="633.6"/><use href="#c" x="577.5" y="634.9"/><use href="#c" x="577.5" y="630.6"/><use href="#c" x="577.5" y="641.8"/><use href="#c" x="592.4" y="633.3"/><use href="#c" x="592.4" y="635.2"/><use href="#c" x="592.4" y="635.6"/><use href="#c" x="592.4" y="638.1"/><use href="#c" x="594.7" y="642.4"/><use href="#c" x="594.7" y="639.3"/><use href="#c" x="597.1" y="635.3"/><use href="#c" x="597.1" y="647.8"/><use href="#c" x="597.1" y="638.8"/><use href="#c" x="597.1" y="634.7"/><use href="#c" x="603.9" y="633.4"/><use href="#c" x="603.9" y="639.7"/><use href="#c" x="603.9" y="641.4"/><use href="#c" x="603.9" y="637.8"/><use href="#c" x="603.9" y="639.8"/><use href="#c" x="603.9" y="638.5"/><use href="#c" x="603.9" y="643.9"/><use href="#c" x="603.9" y="642.9"/><use href="#c" x="612.7" y="638.2"/><use href="#c" x="612.7" y="634.1"/><use href="#c" x="612.7" y="637.7"/><use href="#c" x="612.7" y="633.1"/><use href="#c" x="614.8" y="625.8"/><use href="#c" x="614.8" y="645.9"/><use href="#c" x="614.8" y="632.5"/><use href="#c" x="614.8" y="648.5"/><use href="#c" x="629.1" y="641.4"/><use href="#c" x="629.1" y="639.2"/><use href="#c" x="629.1" y="641.6"/><use href="#c" x="629.1" y="644.9"/><use href="#c" x="631.1" y="644.2"/><use href="#c" x="631.1" y="640.4"/><use href="#c" x="635.0" y="641.9"/><use href="#c" x="635.0" y="642.4"/><use href="#c" x="635.0" y="644.0"/><use href="#c" x="635.0" y="642.6"/><use href="#c" x="635.0" y="644.3"/><use href="#c" x="635.0" y="644.5"/><use href="#c" x="636.9" y="646.3"/><use href="#c" x="636.9" y="647.6"/><use href="#c" x="636.9" y="647.8"/><use href="#c" x="636.9" y="643.9"/><use href="#c" x="642.4" y="637.4"/><use href="#c" x="642.4" y="637.0"/><use href="#c" x="642.4" y="641.7"/><use href="#c" x="642.4" y="640.2"/><use href="#c" x="646.1" y="637.7"/><use href="#c" x="646.1" y="648.0"/><use href="#c" x="646.1" y="637.7"/><use href="#c" x="646.1" y="651.9"/><use href="#c" x="651.4" y="646.3"/><use href="#c" x="651.4" y="637.2"/><use href="#c" x="651.4" y="640.8"/><use href="#c" x="651.4" y="647.8"/><use href="#c" x="658.3" y="656.7"/><use href="#c" x="658.3" y="651.3"/><use href="#c" x="658.3" y="648.1"/><use href="#c" x="658.3" y="645.1"/><use href="#c" x="663.3" y="652.2"/><use href="#c" x="663.3" y="651.3"/><use href="#c" x="663.3" y="653.0"/><use href="#c" x="663.3" y="658.0"/><use href="#c" x="664.9" y="642.1"/><use href="#c" x="664.9" y="645.9"/><use href="#c" x="664.9" y="653.0"/><use href="#c" x="664.9" y="652.2"/><use href="#c" x="671.3" y="654.8"/><use href="#c" x="671.3" y="650.4"/><use href="#c" x="672.9" y="658.9"/><use href="#c" x="672.9" y="657.9"/><use href="#c" x="672.9" y="653.1"/><use href="#c" x="672.9" y="658.1"/><use href="#c" x="677.5" y="661.4"/><use href="#c" x="677.5" y="650.2"/><use href="#c" x="677.5" y="660.2"/><use href="#c" x="677.5" y="661.6"/><use href="#c" x="677.5" y="654.4"/><use href="#c" x="677.5" y="660.8"/><use href="#c" x="677.5" y="663.4"/><use href="#c" x="677.5" y="650.4"/><use href="#c" x="682.1" y="658.9"/><use href="#c" x="682.1" y="657.5"/><use href="#c" x="685.0" y="656.7"/><use href="#c" x="685.0" y="655.9"/><use href="#c" x="685.0" y="662.6"/><use href="#c" x="685.0" y="657.5"/><use href="#c" x="685.0" y="661.0"/><use href="#c" x="685.0" y="657.9"/><use href="#c" x="685.0" y="653.2"/><use href="#c" x="685.0" y="647.1"/><use href="#c" x="693.6" y="658.8"/><use href="#c" x="693.6" y="664.5"/><use href="#c" x="693.6" y="661.0"/><use href="#c" x="693.6" y="660.4"/><use href="#c" x="695.0" y="659.1"/><use href="#c" x="695.0" y="663.0"/><use href="#c" x="695.0" y="665.4"/><use href="#c" x="695.0" y="656.7"/><use href="#c" x="704.5" y="666.2"/><use href="#c" x="704.5" y="663.3"/><use href="#c" x="705.9" y="657.1"/><use href="#c" x="705.9" y="660.4"/><use href="#c" x="705.9" y="654.3"/><use href="#c" x="705.9" y="664.3"/><use href="#c" x="705.9" y="665.1"/><use href="#c" x="705.9" y="658.9"/><use href="#c" x="705.9" y="670.6"/><use href="#c" x="705.9" y="653.1"/><use href="#c" x="707.2" y="662.1"/><use href="#c" x="707.2" y="665.3"/><use href="#c" x="707.2" y="661.0"/><use href="#c" x="707.2" y="658.1"/><use href="#c" x="709.8" y="672.4"/><use href="#c" x="709.8" y="667.6"/><use href="#c" x="709.8" y="668.0"/><use href="#c" x="709.8" y="669.2"/><use href="#c" x="711.1" y="670.1"/><use href="#c" x="711.1" y="671.3"/><use href="#c" x="711.1" y="660.5"/><use href="#c" x="711.1" y="669.9"/><use href="#c" x="716.1" y="666.5"/><use href="#c" x="716.1" y="668.7"/><use href="#c" x="716.1" y="662.9"/><use href="#c" x="716.1" y="668.2"/><use href="#c" x="721.0" y="673.1"/><use href="#c" x="721.0" y="671.8"/><use href="#c" x="721.0" y="680.2"/><use href="#c" x="721.0" y="668.1"/><use href="#c" x="724.7" y="667.1"/><use href="#c" x="724.7" y="671.4"/><use href="#c" x="724.7" y="665.2"/><use href="#c" x="724.7" y="671.2"/><use href="#c" x="727.0" y="669.6"/><use href="#c" x="727.0" y="667.8"/><use href="#c" x="729.4" y="678.1"/><use href="#c" x="729.4" y="672.4"/><use href="#c" x="729.4" y="668.1"/><use href="#c" x="729.4" y="676.1"/><use href="#c" x="735.1" y="675.4"/><use href="#c" x="735.1" y="676.5"/><use href="#c" x="735.1" y="674.2"/><use href="#c" x="735.1" y="675.7"/><use href="#c" x="735.1" y="677.1"/><use href="#c" x="735.1" y="672.1"/><use href="#c" x="736.2" y="678.9"/><use href="#c" x="736.2" y="677.5"/><use href="#c" x="736.2" y="680.4"/><use href="#c" x="736.2" y="682.9"/><use href="#c" x="736.2" y="675.7"/><use href="#c" x="736.2" y="681.2"/><use href="#c" x="736.2" y="676.0"/><use href="#c" x="736.2" y="675.7"/><use href="#c" x="739.6" y="676.1"/><use href="#c" x="739.6" y="679.4"/><use href="#c" x="739.6" y="673.8"/><use href="#c" x="739.6" y="676.8"/><use href="#c" x="745.0" y="690.8"/><use href="#c" x="745.0" y="683.9"/><use href="#c" x="745.0" y="683.6"/><use href="#c" x="745.0" y="681.4"/><use href="#c" x="747.1" y="678.7"/><use href="#c" x="747.1" y="677.6"/><use href="#c" x="747.1" y="684.6"/><use href="#c" x="747.1" y="678.7"/><use href="#c" x="748.2" y="682.9"/><use href="#c" x="748.2" y="679.9"/><use href="#c" x="748.2" y="676.5"/><use href="#c" x="748.2" y="675.4"/><use href="#c" x="752.4" y="684.5"/><use href="#c" x="752.4" y="682.3"/><use href="#c" x="752.4" y="683.2"/><use href="#c" x="752.4" y="689.3"/><use href="#c" x="752.4" y="673.8"/><use href="#c" x="752.4" y="691.4"/><use href="#c" x="752.4" y="687.0"/><use href="#c" x="752.4" y="682.2"/><use href="#c" x="760.4" y="686.4"/><use href="#c" x="760.4" y="692.3"/><use href="#c" x="760.4" y="691.6"/><use href="#c" x="760.4" y="688.7"/><use href="#c" x="761.4" y="685.7"/><use href="#c" x="761.4" y="688.4"/><use href="#c" x="761.4" y="689.0"/><use href="#c" x="761.4" y="687.2"/><use href="#c" x="763.4" y="683.1"/><use href="#c" x="763.4" y="689.3"/><use href="#c" x="764.4" y="693.7"/><use href="#c" x="764.4" y="694.2"/><use href="#c" x="764.4" y="688.7"/><use href="#c" x="764.4" y="699.7"/><use href="#c" x="767.2" y="690.3"/><use href="#c" x="767.2" y="684.2"/><use href="#c" x="767.2" y="692.4"/><use href="#c" x="767.2" y="691.0"/><use href="#c" x="767.2" y="686.8"/><use href="#c" x="767.2" y="693.4"/><use href="#c" x="769.1" y="701.1"/><use href="#c" x="769.1" y="690.9"/><use href="#c" x="769.1" y="689.6"/><use href="#c" x="769.1" y="697.9"/><use href="#c" x="772.0" y="694.3"/><use href="#c" x="772.0" y="684.5"/><use href="#c" x="772.0" y="693.5"/><use href="#c" x="772.0" y="691.1"/><use href="#c" x="772.0" y="694.7"/><use href="#c" x="772.0" y="696.6"/><use href="#c" x="772.0" y="697.1"/><use href="#c" x="772.0" y="691.3"/><use href="#c" x="774.7" y="695.3"/><use href="#c" x="774.7" y="697.5"/><use href="#c" x="774.7" y="695.8"/><use href="#c" x="774.7" y="704.2"/><use href="#c" x="778.4" y="695.8"/><use href="#c" x="778.4" y="698.1"/><use href="#c" x="778.4" y="705.1"/><use href="#c" x="778.4" y="700.6"/><use href="#c" x="783.7" y="697.8"/><use href="#c" x="783.7" y="696.1"/><use href="#c" x="783.7" y="695.0"/><use href="#c" x="783.7" y="698.3"/><use href="#c" x="786.3" y="705.4"/><use href="#c" x="786.3" y="704.0"/><use href="#c" x="786.3" y="707.9"/><use href="#c" x="786.3" y="700.3"/><use href="#c" x="786.3" y="705.8"/><use href="#c" x="786.3" y="703.1"/><use href="#c" x="786.3" y="694.8"/><use href="#c" x="786.3" y="704.8"/><use href="#c" x="789.7" y="700.4"/><use href="#c" x="789.7" y="707.5"/><use href="#c" x="789.7" y="700.7"/><use href="#c" x="789.7" y="699.0"/><use href="#c" x="789.7" y="699.0"/><use href="#c" x="789.7" y="699.9"/><use href="#c" x="790.6" y="704.6"/><use href="#c" x="790.6" y="703.2"/><use href="#c" x="790.6" y="701.4"/><use href="#c" x="790.6" y="709.1"/><use href="#c" x="793.1" y="712.7"/><use href="#c" x="793.1" y="718.1"/><use href="#c" x="793.1" y="717.4"/><use href="#c" x="793.1" y="711.2"/><use href="#c" x="795.6" y="707.0"/><use href="#c" x="795.6" y="709.2"/><use href="#c" x="795.6" y="711.9"/><use href="#c" x="795.6" y="715.4"/><use href="#c" x="796.4" y="710.3"/><use href="#c" x="796.4" y="713.3"/><use href="#c" x="796.4" y="717.1"/><use href="#c" x="796.4" y="712.5"/><use href="#c" x="797.2" y="708.9"/><use href="#c" x="797.2" y="707.0"/><use href="#c" x="797.2" y="708.5"/><use href="#c" x="797.2" y="711.0"/><use href="#c" x="802.8" y="707.6"/><use href="#c" x="802.8" y="715.7"/><use href="#c" x="802.8" y="709.6"/><use href="#c" x="802.8" y="711.7"/><use href="#c" x="803.6" y="711.8"/><use href="#c" x="803.6" y="722.1"/><use href="#c" x="805.2" y="717.8"/><use href="#c" x="805.2" y="708.2"/><use href="#c" x="805.2" y="715.4"/><use href="#c" x="805.2" y="715.2"/><use href="#c" x="806.0" y="710.5"/><use href="#c" x="806.0" y="716.3"/><use href="#c" x="806.0" y="717.9"/><use href="#c" x="806.0" y="716.9"/><use href="#c" x="809.8" y="720.1"/><use href="#c" x="809.8" y="718.1"/><use href="#c" x="809.8" y="720.5"/><use href="#c" x="809.8" y="717.3"/><use href="#c" x="809.8" y="719.9"/><use href="#c" x="809.8" y="726.1"/><use href="#c" x="809.8" y="714.2"/><use href="#c" x="809.8" y="719.5"/><use href="#c" x="814.4" y="711.6"/><use href="#c" x="814.4" y="724.3"/><use href="#c" x="815.1" y="725.3"/><use href="#c" x="815.1" y="718.4"/><use href="#c" x="815.1" y="723.9"/><use href="#c" x="815.1" y="723.0"/><use href="#c" x="817.3" y="718.6"/><use href="#c" x="817.3" y="720.0"/><use href="#c" x="817.3" y="720.8"/><use href="#c" x="817.3" y="721.8"/><use href="#c" x="817.3" y="711.3"/><use href="#c" x="817.3" y="716.6"/><use href="#c" x="817.3" y="725.6"/><use href="#c" x="817.3" y="722.9"/><use href="#c" x="818.1" y="726.1"/><use href="#c" x="818.1" y="730.3"/><use href="#c" x="818.1" y="728.2"/><use href="#c" x="818.1" y="723.5"/><use href="#c" x="821.0" y="726.4"/><use href="#c" x="821.0" y="720.8"/><use href="#c" x="821.0" y="720.1"/><use href="#c" x="821.0" y="735.3"/><use href="#c" x="821.0" y="719.3"/><use href="#c" x="821.0" y="724.3"/><use href="#c" x="821.0" y="719.2"/><use href="#c" x="821.0" y="730.1"/><use href="#c" x="823.8" y="726.1"/><use href="#c" x="823.8" y="738.4"/><use href="#c" x="823.8" y="730.8"/><use href="#c" x="823.8" y="733.9"/><use href="#c" x="825.9" y="733.2"/><use href="#c" x="825.9" y="740.0"/><use href="#c" x="825.9" y="730.3"/><use href="#c" x="825.9" y="731.4"/><use href="#c" x="827.3" y="742.2"/><use href="#c" x="827.3" y="735.6"/><use href="#c" x="827.3" y="735.0"/><use href="#c" x="827.3" y="735.3"/><use href="#c" x="829.4" y="736.3"/><use href="#c" x="829.4" y="734.6"/><use href="#c" x="829.4" y="735.9"/><use href="#c" x="829.4" y="738.6"/><use href="#c" x="832.1" y="732.8"/><use href="#c" x="832.1" y="738.4"/><use href="#c" x="832.1" y="741.6"/><use href="#c" x="832.1" y="736.9"/><use href="#c" x="836.8" y="744.9"/><use href="#c" x="836.8" y="730.2"/><use href="#c" x="837.5" y="730.4"/><use href="#c" x="837.5" y="744.6"/><use href="#c" x="837.5" y="737.3"/><use href="#c" x="837.5" y="728.3"/><use href="#c" x="837.5" y="732.8"/><use href="#c" x="837.5" y="730.2"/><use href="#c" x="838.2" y="734.7"/><use href="#c" x="838.2" y="739.9"/><use href="#c" x="838.2" y="737.0"/><use href="#c" x="838.2" y="737.4"/><use href="#c" x="838.2" y="738.6"/><use href="#c" x="838.2" y="748.5"/><use href="#c" x="838.2" y="742.8"/><use href="#c" x="838.2" y="739.0"/></g>
<path d="M309.82 576.77L726.61 640.12M707.22 642.11L726.61 640.12L708.68 632.45" stroke="#000" stroke-width="1.8" fill="none" stroke-linejoin="miter" stroke-miterlimit="10"/>
<rect x="200.00" y="553.60" width="639.00" height="200.40" fill="none" stroke="#000" stroke-width="2"/>
<text transform="translate(264.50 744.00) scale(0.981 1)" font-size="32.0" text-anchor="start" class="t">std = 4.0 MPa</text>
<text transform="translate(204.40 795.70) scale(0.981 1)" font-size="32.0" text-anchor="middle" class="t">800</text>
<text transform="translate(314.22 795.70) scale(0.981 1)" font-size="32.0" text-anchor="middle" class="t">600</text>
<text transform="translate(468.99 795.70) scale(0.981 1)" font-size="32.0" text-anchor="middle" class="t">400</text>
<text transform="translate(733.58 795.70) scale(0.981 1)" font-size="32.0" text-anchor="middle" class="t">200</text>
<text transform="translate(520.30 842.90) scale(0.981 1)" font-size="32.0" text-anchor="middle" class="t">Wavelength (m)</text>
<text transform="translate(519.50 517.30) scale(0.981 1)" font-size="32.0" text-anchor="middle" class="t">Strength excess</text>
<text transform="translate(181.40 587.01) scale(0.981 1)" font-size="32.0" text-anchor="end" class="t">1x10<tspan dy="-15" font-size="25.6">6</tspan></text>
<text transform="translate(181.40 650.71) scale(0.981 1)" font-size="32.0" text-anchor="end" class="t">100000</text>
<text transform="translate(181.40 717.51) scale(0.981 1)" font-size="32.0" text-anchor="end" class="t">10000</text>
<text transform="translate(32.50 653.80) rotate(-90) scale(0.981 1)" font-size="32.0" text-anchor="middle" class="t">PSD (MPa<tspan dy="-15" font-size="25.6">2</tspan><tspan dy="15">.m)</tspan></text>
<path d="M1212.72 754.00v-10.1M1212.72 553.60v10.1M1367.49 754.00v-10.1M1367.49 553.60v10.1M1632.08 754.00v-10.1M1632.08 553.60v10.1M1102.90 754.00h4.9M1741.90 754.00h-4.9M1102.90 742.24h4.9M1741.90 742.24h-4.9M1102.90 733.89h4.9M1741.90 733.89h-4.9M1102.90 727.42h4.9M1741.90 727.42h-4.9M1102.90 722.13h4.9M1741.90 722.13h-4.9M1102.90 717.66h4.9M1741.90 717.66h-4.9M1102.90 713.78h4.9M1741.90 713.78h-4.9M1102.90 710.37h4.9M1741.90 710.37h-4.9M1102.90 707.31h9.9M1741.90 707.31h-9.9M1102.90 687.20h4.9M1741.90 687.20h-4.9M1102.90 675.44h4.9M1741.90 675.44h-4.9M1102.90 667.09h4.9M1741.90 667.09h-4.9M1102.90 660.62h4.9M1741.90 660.62h-4.9M1102.90 655.33h4.9M1741.90 655.33h-4.9M1102.90 650.86h4.9M1741.90 650.86h-4.9M1102.90 646.98h4.9M1741.90 646.98h-4.9M1102.90 643.57h4.9M1741.90 643.57h-4.9M1102.90 640.51h9.9M1741.90 640.51h-9.9M1102.90 620.40h4.9M1741.90 620.40h-4.9M1102.90 608.64h4.9M1741.90 608.64h-4.9M1102.90 600.29h4.9M1741.90 600.29h-4.9M1102.90 593.82h4.9M1741.90 593.82h-4.9M1102.90 588.53h4.9M1741.90 588.53h-4.9M1102.90 584.06h4.9M1741.90 584.06h-4.9M1102.90 580.18h4.9M1741.90 580.18h-4.9M1102.90 576.77h4.9M1741.90 576.77h-4.9M1102.90 573.71h9.9M1741.90 573.71h-9.9M1102.90 553.60h4.9M1741.90 553.60h-4.9" stroke="#000" stroke-width="1" fill="none"/>
<g><use href="#c" x="1148.4" y="607.7"/><use href="#c" x="1148.4" y="610.2"/><use href="#c" x="1148.4" y="612.2"/><use href="#c" x="1148.4" y="615.5"/><use href="#c" x="1188.1" y="612.8"/><use href="#c" x="1188.1" y="615.1"/><use href="#c" x="1199.7" y="608.9"/><use href="#c" x="1199.7" y="610.8"/><use href="#c" x="1199.7" y="612.8"/><use href="#c" x="1199.7" y="614.1"/><use href="#c" x="1210.6" y="613.5"/><use href="#c" x="1210.6" y="620.9"/><use href="#c" x="1230.7" y="610.2"/><use href="#c" x="1230.7" y="612.8"/><use href="#c" x="1230.7" y="614.7"/><use href="#c" x="1230.7" y="617.1"/><use href="#c" x="1273.3" y="613.2"/><use href="#c" x="1273.3" y="614.7"/><use href="#c" x="1273.3" y="616.7"/><use href="#c" x="1273.3" y="618.6"/><use href="#c" x="1273.3" y="620.9"/><use href="#c" x="1273.3" y="628.7"/><use href="#c" x="1280.7" y="613.5"/><use href="#c" x="1280.7" y="615.5"/><use href="#c" x="1280.7" y="617.4"/><use href="#c" x="1280.7" y="619.0"/><use href="#c" x="1301.6" y="617.4"/><use href="#c" x="1301.6" y="618.6"/><use href="#c" x="1301.6" y="620.0"/><use href="#c" x="1301.6" y="620.6"/><use href="#c" x="1320.4" y="626.8"/><use href="#c" x="1320.4" y="627.0"/><use href="#c" x="1331.9" y="625.2"/><use href="#c" x="1331.9" y="625.6"/><use href="#c" x="1331.9" y="626.0"/><use href="#c" x="1331.9" y="626.4"/><use href="#c" x="1342.9" y="620.6"/><use href="#c" x="1342.9" y="620.9"/><use href="#c" x="1348.1" y="620.0"/><use href="#c" x="1348.1" y="623.9"/><use href="#c" x="1348.1" y="625.8"/><use href="#c" x="1348.1" y="626.8"/><use href="#c" x="1363.0" y="623.9"/><use href="#c" x="1363.0" y="628.7"/><use href="#c" x="1363.0" y="630.7"/><use href="#c" x="1363.0" y="632.2"/><use href="#c" x="1367.7" y="624.8"/><use href="#c" x="1367.7" y="626.4"/><use href="#c" x="1367.7" y="630.7"/><use href="#c" x="1367.7" y="632.2"/><use href="#c" x="1385.4" y="626.8"/><use href="#c" x="1385.4" y="628.7"/><use href="#c" x="1385.4" y="630.3"/><use href="#c" x="1385.4" y="636.1"/><use href="#c" x="1401.7" y="629.7"/><use href="#c" x="1401.7" y="630.7"/><use href="#c" x="1405.6" y="627.8"/><use href="#c" x="1405.6" y="630.3"/><use href="#c" x="1405.6" y="632.2"/><use href="#c" x="1405.6" y="634.2"/><use href="#c" x="1405.6" y="635.6"/><use href="#c" x="1405.6" y="637.5"/><use href="#c" x="1413.0" y="625.8"/><use href="#c" x="1413.0" y="630.7"/><use href="#c" x="1413.0" y="633.6"/><use href="#c" x="1413.0" y="636.5"/><use href="#c" x="1416.7" y="633.6"/><use href="#c" x="1416.7" y="635.6"/><use href="#c" x="1416.7" y="637.5"/><use href="#c" x="1416.7" y="639.5"/><use href="#c" x="1433.9" y="632.6"/><use href="#c" x="1433.9" y="634.6"/><use href="#c" x="1433.9" y="636.1"/><use href="#c" x="1433.9" y="637.5"/><use href="#c" x="1443.5" y="633.7"/><use href="#c" x="1443.5" y="635.8"/><use href="#c" x="1443.5" y="633.2"/><use href="#c" x="1443.5" y="631.6"/><use href="#c" x="1452.7" y="634.2"/><use href="#c" x="1452.7" y="633.8"/><use href="#c" x="1455.6" y="643.6"/><use href="#c" x="1455.6" y="642.4"/><use href="#c" x="1455.6" y="640.7"/><use href="#c" x="1455.6" y="639.3"/><use href="#c" x="1455.6" y="638.6"/><use href="#c" x="1455.6" y="637.9"/><use href="#c" x="1455.6" y="638.9"/><use href="#c" x="1455.6" y="642.8"/><use href="#c" x="1464.2" y="639.8"/><use href="#c" x="1464.2" y="645.8"/><use href="#c" x="1464.2" y="643.5"/><use href="#c" x="1464.2" y="642.2"/><use href="#c" x="1475.2" y="640.7"/><use href="#c" x="1475.2" y="638.3"/><use href="#c" x="1477.8" y="648.3"/><use href="#c" x="1477.8" y="639.0"/><use href="#c" x="1477.8" y="637.7"/><use href="#c" x="1477.8" y="643.9"/><use href="#c" x="1480.4" y="643.2"/><use href="#c" x="1480.4" y="643.1"/><use href="#c" x="1480.4" y="638.6"/><use href="#c" x="1480.4" y="638.6"/><use href="#c" x="1495.3" y="642.7"/><use href="#c" x="1495.3" y="647.0"/><use href="#c" x="1495.3" y="643.7"/><use href="#c" x="1495.3" y="644.9"/><use href="#c" x="1497.6" y="647.3"/><use href="#c" x="1497.6" y="650.1"/><use href="#c" x="1500.0" y="645.8"/><use href="#c" x="1500.0" y="653.8"/><use href="#c" x="1500.0" y="648.6"/><use href="#c" x="1500.0" y="645.5"/><use href="#c" x="1506.8" y="648.8"/><use href="#c" x="1506.8" y="649.9"/><use href="#c" x="1506.8" y="647.2"/><use href="#c" x="1506.8" y="647.1"/><use href="#c" x="1506.8" y="647.5"/><use href="#c" x="1506.8" y="658.3"/><use href="#c" x="1506.8" y="645.7"/><use href="#c" x="1506.8" y="644.2"/><use href="#c" x="1515.6" y="648.8"/><use href="#c" x="1515.6" y="648.5"/><use href="#c" x="1515.6" y="648.6"/><use href="#c" x="1515.6" y="646.8"/><use href="#c" x="1517.7" y="647.1"/><use href="#c" x="1517.7" y="646.9"/><use href="#c" x="1517.7" y="656.0"/><use href="#c" x="1517.7" y="647.6"/><use href="#c" x="1532.0" y="650.4"/><use href="#c" x="1532.0" y="655.5"/><use href="#c" x="1532.0" y="653.1"/><use href="#c" x="1532.0" y="648.3"/><use href="#c" x="1534.0" y="651.2"/><use href="#c" x="1534.0" y="655.0"/><use href="#c" x="1537.9" y="647.3"/><use href="#c" x="1537.9" y="653.7"/><use href="#c" x="1537.9" y="648.5"/><use href="#c" x="1537.9" y="649.8"/><use href="#c" x="1537.9" y="650.8"/><use href="#c" x="1537.9" y="651.1"/><use href="#c" x="1539.8" y="654.0"/><use href="#c" x="1539.8" y="651.4"/><use href="#c" x="1539.8" y="656.3"/><use href="#c" x="1539.8" y="655.8"/><use href="#c" x="1545.3" y="652.2"/><use href="#c" x="1545.3" y="651.3"/><use href="#c" x="1545.3" y="650.0"/><use href="#c" x="1545.3" y="654.1"/><use href="#c" x="1549.0" y="656.7"/><use href="#c" x="1549.0" y="654.2"/><use href="#c" x="1549.0" y="654.4"/><use href="#c" x="1549.0" y="653.6"/><use href="#c" x="1554.3" y="653.0"/><use href="#c" x="1554.3" y="654.6"/><use href="#c" x="1554.3" y="656.1"/><use href="#c" x="1554.3" y="658.4"/><use href="#c" x="1561.2" y="666.8"/><use href="#c" x="1561.2" y="659.5"/><use href="#c" x="1561.2" y="663.2"/><use href="#c" x="1561.2" y="662.6"/><use href="#c" x="1566.2" y="666.0"/><use href="#c" x="1566.2" y="664.7"/><use href="#c" x="1566.2" y="668.1"/><use href="#c" x="1566.2" y="664.5"/><use href="#c" x="1567.8" y="659.9"/><use href="#c" x="1567.8" y="665.3"/><use href="#c" x="1567.8" y="661.6"/><use href="#c" x="1567.8" y="669.4"/><use href="#c" x="1574.2" y="660.4"/><use href="#c" x="1574.2" y="668.6"/><use href="#c" x="1575.8" y="662.7"/><use href="#c" x="1575.8" y="663.4"/><use href="#c" x="1575.8" y="667.2"/><use href="#c" x="1575.8" y="663.7"/><use href="#c" x="1580.4" y="658.1"/><use href="#c" x="1580.4" y="661.7"/><use href="#c" x="1580.4" y="663.0"/><use href="#c" x="1580.4" y="665.6"/><use href="#c" x="1580.4" y="658.9"/><use href="#c" x="1580.4" y="659.8"/><use href="#c" x="1580.4" y="663.6"/><use href="#c" x="1580.4" y="667.6"/><use href="#c" x="1585.0" y="667.1"/><use href="#c" x="1585.0" y="665.5"/><use href="#c" x="1587.9" y="666.0"/><use href="#c" x="1587.9" y="668.2"/><use href="#c" x="1587.9" y="669.9"/><use href="#c" x="1587.9" y="665.2"/><use href="#c" x="1587.9" y="673.2"/><use href="#c" x="1587.9" y="674.0"/><use href="#c" x="1587.9" y="669.0"/><use href="#c" x="1587.9" y="667.8"/><use href="#c" x="1596.5" y="675.2"/><use href="#c" x="1596.5" y="674.3"/><use href="#c" x="1596.5" y="677.3"/><use href="#c" x="1596.5" y="678.2"/><use href="#c" x="1597.9" y="670.7"/><use href="#c" x="1597.9" y="668.3"/><use href="#c" x="1597.9" y="668.7"/><use href="#c" x="1597.9" y="667.1"/><use href="#c" x="1607.4" y="671.6"/><use href="#c" x="1607.4" y="670.9"/><use href="#c" x="1608.8" y="676.3"/><use href="#c" x="1608.8" y="686.0"/><use href="#c" x="1608.8" y="674.4"/><use href="#c" x="1608.8" y="669.2"/><use href="#c" x="1608.8" y="673.6"/><use href="#c" x="1608.8" y="680.6"/><use href="#c" x="1608.8" y="678.7"/><use href="#c" x="1608.8" y="678.7"/><use href="#c" x="1610.1" y="678.1"/><use href="#c" x="1610.1" y="681.7"/><use href="#c" x="1610.1" y="681.1"/><use href="#c" x="1610.1" y="688.7"/><use href="#c" x="1612.7" y="682.0"/><use href="#c" x="1612.7" y="678.0"/><use href="#c" x="1612.7" y="678.7"/><use href="#c" x="1612.7" y="682.9"/><use href="#c" x="1614.0" y="675.9"/><use href="#c" x="1614.0" y="669.9"/><use href="#c" x="1614.0" y="666.2"/><use href="#c" x="1614.0" y="679.8"/><use href="#c" x="1619.0" y="684.0"/><use href="#c" x="1619.0" y="677.8"/><use href="#c" x="1619.0" y="680.4"/><use href="#c" x="1619.0" y="683.8"/><use href="#c" x="1623.9" y="679.2"/><use href="#c" x="1623.9" y="690.5"/><use href="#c" x="1623.9" y="676.6"/><use href="#c" x="1623.9" y="681.2"/><use href="#c" x="1627.6" y="682.1"/><use href="#c" x="1627.6" y="684.9"/><use href="#c" x="1627.6" y="673.9"/><use href="#c" x="1627.6" y="679.7"/><use href="#c" x="1629.9" y="687.2"/><use href="#c" x="1629.9" y="682.4"/><use href="#c" x="1632.3" y="679.9"/><use href="#c" x="1632.3" y="681.0"/><use href="#c" x="1632.3" y="676.5"/><use href="#c" x="1632.3" y="692.4"/><use href="#c" x="1638.0" y="687.6"/><use href="#c" x="1638.0" y="688.5"/><use href="#c" x="1638.0" y="690.5"/><use href="#c" x="1638.0" y="690.2"/><use href="#c" x="1638.0" y="686.6"/><use href="#c" x="1638.0" y="684.5"/><use href="#c" x="1639.1" y="696.8"/><use href="#c" x="1639.1" y="694.6"/><use href="#c" x="1639.1" y="696.0"/><use href="#c" x="1639.1" y="683.2"/><use href="#c" x="1639.1" y="689.9"/><use href="#c" x="1639.1" y="693.4"/><use href="#c" x="1639.1" y="694.0"/><use href="#c" x="1639.1" y="696.8"/><use href="#c" x="1642.5" y="689.0"/><use href="#c" x="1642.5" y="695.9"/><use href="#c" x="1642.5" y="691.6"/><use href="#c" x="1642.5" y="691.7"/><use href="#c" x="1647.9" y="686.5"/><use href="#c" x="1647.9" y="690.8"/><use href="#c" x="1647.9" y="687.8"/><use href="#c" x="1647.9" y="688.2"/><use href="#c" x="1650.0" y="695.0"/><use href="#c" x="1650.0" y="687.7"/><use href="#c" x="1650.0" y="699.8"/><use href="#c" x="1650.0" y="696.1"/><use href="#c" x="1651.1" y="692.5"/><use href="#c" x="1651.1" y="696.1"/><use href="#c" x="1651.1" y="694.8"/><use href="#c" x="1651.1" y="694.6"/><use href="#c" x="1655.3" y="704.1"/><use href="#c" x="1655.3" y="693.4"/><use href="#c" x="1655.3" y="695.1"/><use href="#c" x="1655.3" y="704.4"/><use href="#c" x="1655.3" y="689.3"/><use href="#c" x="1655.3" y="698.3"/><use href="#c" x="1655.3" y="701.3"/><use href="#c" x="1655.3" y="694.1"/><use href="#c" x="1663.3" y="694.7"/><use href="#c" x="1663.3" y="700.7"/><use href="#c" x="1663.3" y="705.0"/><use href="#c" x="1663.3" y="708.6"/><use href="#c" x="1664.3" y="699.9"/><use href="#c" x="1664.3" y="700.6"/><use href="#c" x="1664.3" y="705.7"/><use href="#c" x="1664.3" y="694.0"/><use href="#c" x="1666.3" y="709.2"/><use href="#c" x="1666.3" y="702.7"/><use href="#c" x="1667.3" y="704.5"/><use href="#c" x="1667.3" y="708.7"/><use href="#c" x="1667.3" y="703.1"/><use href="#c" x="1667.3" y="708.8"/><use href="#c" x="1670.1" y="708.9"/><use href="#c" x="1670.1" y="704.5"/><use href="#c" x="1670.1" y="712.6"/><use href="#c" x="1670.1" y="705.0"/><use href="#c" x="1670.1" y="710.6"/><use href="#c" x="1670.1" y="709.9"/><use href="#c" x="1672.0" y="708.1"/><use href="#c" x="1672.0" y="712.8"/><use href="#c" x="1672.0" y="707.4"/><use href="#c" x="1672.0" y="714.9"/><use href="#c" x="1674.9" y="698.8"/><use href="#c" x="1674.9" y="706.4"/><use href="#c" x="1674.9" y="701.4"/><use href="#c" x="1674.9" y="697.4"/><use href="#c" x="1674.9" y="701.9"/><use href="#c" x="1674.9" y="709.3"/><use href="#c" x="1674.9" y="708.4"/><use href="#c" x="1674.9" y="703.9"/><use href="#c" x="1677.6" y="713.4"/><use href="#c" x="1677.6" y="706.8"/><use href="#c" x="1677.6" y="709.2"/><use href="#c" x="1677.6" y="716.0"/><use href="#c" x="1681.3" y="707.1"/><use href="#c" x="1681.3" y="718.5"/><use href="#c" x="1681.3" y="715.5"/><use href="#c" x="1681.3" y="708.3"/><use href="#c" x="1686.6" y="719.2"/><use href="#c" x="1686.6" y="717.5"/><use href="#c" x="1686.6" y="719.2"/><use href="#c" x="1686.6" y="722.1"/><use href="#c" x="1689.2" y="720.0"/><use href="#c" x="1689.2" y="715.5"/><use href="#c" x="1689.2" y="724.9"/><use href="#c" x="1689.2" y="713.5"/><use href="#c" x="1689.2" y="717.5"/><use href="#c" x="1689.2" y="718.6"/><use href="#c" x="1689.2" y="724.0"/><use href="#c" x="1689.2" y="712.0"/><use href="#c" x="1692.6" y="715.2"/><use href="#c" x="1692.6" y="726.0"/><use href="#c" x="1692.6" y="718.2"/><use href="#c" x="1692.6" y="720.9"/><use href="#c" x="1692.6" y="722.5"/><use href="#c" x="1692.6" y="720.0"/><use href="#c" x="1693.5" y="720.5"/><use href="#c" x="1693.5" y="718.3"/><use href="#c" x="1693.5" y="718.9"/><use href="#c" x="1693.5" y="722.4"/><use href="#c" x="1696.0" y="733.5"/><use href="#c" x="1696.0" y="723.3"/><use href="#c" x="1696.0" y="722.8"/><use href="#c" x="1696.0" y="722.3"/><use href="#c" x="1698.5" y="728.0"/><use href="#c" x="1698.5" y="733.3"/><use href="#c" x="1698.5" y="728.2"/><use href="#c" x="1698.5" y="729.9"/><use href="#c" x="1699.3" y="719.4"/><use href="#c" x="1699.3" y="727.3"/><use href="#c" x="1699.3" y="722.4"/><use href="#c" x="1699.3" y="722.3"/><use href="#c" x="1700.1" y="730.7"/><use href="#c" x="1700.1" y="726.7"/><use href="#c" x="1700.1" y="727.6"/><use href="#c" x="1700.1" y="737.7"/><use href="#c" x="1705.7" y="724.7"/><use href="#c" x="1705.7" y="729.9"/><use href="#c" x="1705.7" y="729.9"/><use href="#c" x="1705.7" y="728.7"/><use href="#c" x="1706.5" y="736.2"/><use href="#c" x="1706.5" y="730.6"/><use href="#c" x="1708.1" y="732.1"/><use href="#c" x="1708.1" y="734.4"/><use href="#c" x="1708.1" y="725.9"/><use href="#c" x="1708.1" y="727.9"/><use href="#c" x="1708.9" y="737.4"/><use href="#c" x="1708.9" y="735.1"/><use href="#c" x="1708.9" y="736.6"/><use href="#c" x="1708.9" y="735.5"/><use href="#c" x="1712.7" y="737.9"/><use href="#c" x="1712.7" y="734.5"/><use href="#c" x="1712.7" y="736.4"/><use href="#c" x="1712.7" y="722.2"/><use href="#c" x="1712.7" y="736.2"/><use href="#c" x="1712.7" y="743.4"/><use href="#c" x="1712.7" y="725.2"/><use href="#c" x="1712.7" y="729.5"/><use href="#c" x="1717.3" y="731.9"/><use href="#c" x="1717.3" y="727.2"/><use href="#c" x="1718.0" y="736.6"/><use href="#c" x="1718.0" y="730.3"/><use href="#c" x="1718.0" y="729.7"/><use href="#c" x="1718.0" y="734.6"/><use href="#c" x="1720.2" y="741.2"/><use href="#c" x="1720.2" y="739.0"/><use href="#c" x="1720.2" y="732.5"/><use href="#c" x="1720.2" y="729.2"/><use href="#c" x="1720.2" y="733.0"/><use href="#c" x="1720.2" y="740.5"/><use href="#c" x="1720.2" y="733.3"/><use href="#c" x="1720.2" y="738.2"/><use href="#c" x="1721.0" y="735.7"/><use href="#c" x="1721.0" y="741.4"/><use href="#c" x="1721.0" y="745.2"/><use href="#c" x="1721.0" y="734.6"/><use href="#c" x="1723.9" y="739.8"/><use href="#c" x="1723.9" y="742.3"/><use href="#c" x="1723.9" y="742.6"/><use href="#c" x="1723.9" y="742.2"/><use href="#c" x="1723.9" y="747.5"/><use href="#c" x="1723.9" y="740.1"/><use href="#c" x="1723.9" y="749.0"/><use href="#c" x="1723.9" y="747.5"/><use href="#c" x="1726.7" y="740.1"/><use href="#c" x="1726.7" y="744.2"/><use href="#c" x="1726.7" y="744.6"/><use href="#c" x="1726.7" y="743.4"/><use href="#c" x="1728.8" y="741.7"/><use href="#c" x="1728.8" y="747.4"/><use href="#c" x="1728.8" y="740.4"/><use href="#c" x="1728.8" y="744.2"/><use href="#c" x="1730.2" y="749.0"/><use href="#c" x="1730.2" y="744.8"/><use href="#c" x="1730.2" y="746.1"/><use href="#c" x="1730.2" y="743.5"/><use href="#c" x="1732.3" y="738.2"/><use href="#c" x="1732.3" y="743.0"/><use href="#c" x="1732.3" y="750.8"/><use href="#c" x="1732.3" y="743.8"/><use href="#c" x="1735.0" y="748.4"/><use href="#c" x="1735.0" y="750.0"/><use href="#c" x="1735.0" y="744.1"/><use href="#c" x="1735.0" y="751.2"/><use href="#c" x="1739.7" y="744.1"/><use href="#c" x="1739.7" y="750.5"/><use href="#c" x="1740.4" y="751.0"/><use href="#c" x="1740.4" y="753.5"/><use href="#c" x="1740.4" y="753.9"/><use href="#c" x="1741.1" y="750.3"/><use href="#c" x="1741.1" y="753.4"/><use href="#c" x="1741.1" y="750.5"/><use href="#c" x="1741.1" y="753.2"/><use href="#c" x="1741.1" y="752.0"/><use href="#c" x="1741.1" y="753.7"/><use href="#c" x="1741.1" y="752.2"/></g>
<path d="M1212.72 576.77L1629.51 640.12M1610.12 642.11L1629.51 640.12L1611.58 632.45" stroke="#000" stroke-width="1.8" fill="none" stroke-linejoin="miter" stroke-miterlimit="10"/>
<rect x="1102.90" y="553.60" width="639.00" height="200.40" fill="none" stroke="#000" stroke-width="2"/>
<text transform="translate(1167.40 744.00) scale(0.981 1)" font-size="32.0" text-anchor="start" class="t">std = 3.3 MPa</text>
<text transform="translate(1107.30 795.70) scale(0.981 1)" font-size="32.0" text-anchor="middle" class="t">800</text>
<text transform="translate(1217.12 795.70) scale(0.981 1)" font-size="32.0" text-anchor="middle" class="t">600</text>
<text transform="translate(1371.89 795.70) scale(0.981 1)" font-size="32.0" text-anchor="middle" class="t">400</text>
<text transform="translate(1636.48 795.70) scale(0.981 1)" font-size="32.0" text-anchor="middle" class="t">200</text>
<text transform="translate(1423.20 842.90) scale(0.981 1)" font-size="32.0" text-anchor="middle" class="t">Wavelength (m)</text>
<text transform="translate(1422.40 517.30) scale(0.981 1)" font-size="32.0" text-anchor="middle" class="t">Strength excess</text>
<text transform="translate(1082.90 587.01) scale(0.981 1)" font-size="32.0" text-anchor="end" class="t">1x10<tspan dy="-15" font-size="25.6">6</tspan></text>
<text transform="translate(1082.90 650.71) scale(0.981 1)" font-size="32.0" text-anchor="end" class="t">100000</text>
<text transform="translate(1082.90 717.51) scale(0.981 1)" font-size="32.0" text-anchor="end" class="t">10000</text>
<text transform="translate(935.40 653.80) rotate(-90) scale(0.981 1)" font-size="32.0" text-anchor="middle" class="t">PSD (MPa<tspan dy="-15" font-size="25.6">2</tspan><tspan dy="15">.m)</tspan></text>
<path d="M309.82 1148.70v-10.1M309.82 948.30v10.1M464.59 1148.70v-10.1M464.59 948.30v10.1M729.18 1148.70v-10.1M729.18 948.30v10.1M200.00 1148.70h9.9M839.00 1148.70h-9.9M200.00 1128.59h4.9M839.00 1128.59h-4.9M200.00 1116.83h4.9M839.00 1116.83h-4.9M200.00 1108.48h4.9M839.00 1108.48h-4.9M200.00 1102.01h4.9M839.00 1102.01h-4.9M200.00 1096.72h4.9M839.00 1096.72h-4.9M200.00 1092.25h4.9M839.00 1092.25h-4.9M200.00 1088.37h4.9M839.00 1088.37h-4.9M200.00 1084.96h4.9M839.00 1084.96h-4.9M200.00 1081.90h9.9M839.00 1081.90h-9.9M200.00 1061.79h4.9M839.00 1061.79h-4.9M200.00 1050.03h4.9M839.00 1050.03h-4.9M200.00 1041.68h4.9M839.00 1041.68h-4.9M200.00 1035.21h4.9M839.00 1035.21h-4.9M200.00 1029.92h4.9M839.00 1029.92h-4.9M200.00 1025.45h4.9M839.00 1025.45h-4.9M200.00 1021.57h4.9M839.00 1021.57h-4.9M200.00 1018.16h4.9M839.00 1018.16h-4.9M200.00 1015.10h9.9M839.00 1015.10h-9.9M200.00 994.99h4.9M839.00 994.99h-4.9M200.00 983.23h4.9M839.00 983.23h-4.9M200.00 974.88h4.9M839.00 974.88h-4.9M200.00 968.41h4.9M839.00 968.41h-4.9M200.00 963.12h4.9M839.00 963.12h-4.9M200.00 958.65h4.9M839.00 958.65h-4.9M200.00 954.77h4.9M839.00 954.77h-4.9M200.00 951.36h4.9M839.00 951.36h-4.9M200.00 948.30h9.9M839.00 948.30h-9.9" stroke="#000" stroke-width="1" fill="none"/>
<g><use href="#c" x="245.5" y="958.5"/><use href="#c" x="245.5" y="960.8"/><use href="#c" x="245.5" y="962.8"/><use href="#c" x="245.5" y="964.3"/><use href="#c" x="285.2" y="958.1"/><use href="#c" x="285.2" y="959.4"/><use href="#c" x="296.8" y="959.1"/><use href="#c" x="296.8" y="960.4"/><use href="#c" x="296.8" y="961.4"/><use href="#c" x="296.8" y="962.0"/><use href="#c" x="307.7" y="967.2"/><use href="#c" x="307.7" y="968.2"/><use href="#c" x="327.8" y="963.9"/><use href="#c" x="327.8" y="965.3"/><use href="#c" x="327.8" y="966.3"/><use href="#c" x="327.8" y="967.2"/><use href="#c" x="370.4" y="967.2"/><use href="#c" x="370.4" y="968.2"/><use href="#c" x="370.4" y="968.6"/><use href="#c" x="370.4" y="969.2"/><use href="#c" x="370.4" y="970.2"/><use href="#c" x="370.4" y="971.1"/><use href="#c" x="377.8" y="964.3"/><use href="#c" x="377.8" y="968.2"/><use href="#c" x="377.8" y="970.2"/><use href="#c" x="377.8" y="972.1"/><use href="#c" x="398.7" y="963.3"/><use href="#c" x="398.7" y="967.2"/><use href="#c" x="398.7" y="968.2"/><use href="#c" x="398.7" y="974.4"/><use href="#c" x="417.5" y="974.6"/><use href="#c" x="417.5" y="975.0"/><use href="#c" x="429.0" y="966.3"/><use href="#c" x="429.0" y="970.2"/><use href="#c" x="429.0" y="971.1"/><use href="#c" x="429.0" y="972.1"/><use href="#c" x="440.0" y="974.1"/><use href="#c" x="440.0" y="974.6"/><use href="#c" x="445.2" y="969.2"/><use href="#c" x="445.2" y="971.1"/><use href="#c" x="445.2" y="974.1"/><use href="#c" x="445.2" y="977.0"/><use href="#c" x="460.1" y="970.5"/><use href="#c" x="460.1" y="971.7"/><use href="#c" x="460.1" y="972.5"/><use href="#c" x="460.1" y="973.3"/><use href="#c" x="464.8" y="973.1"/><use href="#c" x="464.8" y="976.0"/><use href="#c" x="464.8" y="978.9"/><use href="#c" x="464.8" y="982.2"/><use href="#c" x="482.5" y="971.1"/><use href="#c" x="482.5" y="972.1"/><use href="#c" x="482.5" y="976.4"/><use href="#c" x="482.5" y="977.2"/><use href="#c" x="498.8" y="978.9"/><use href="#c" x="498.8" y="980.3"/><use href="#c" x="502.7" y="975.0"/><use href="#c" x="502.7" y="977.0"/><use href="#c" x="502.7" y="978.9"/><use href="#c" x="502.7" y="980.9"/><use href="#c" x="502.7" y="982.8"/><use href="#c" x="502.7" y="984.2"/><use href="#c" x="510.1" y="976.0"/><use href="#c" x="510.1" y="977.9"/><use href="#c" x="510.1" y="980.9"/><use href="#c" x="510.1" y="982.8"/><use href="#c" x="513.8" y="976.0"/><use href="#c" x="513.8" y="977.9"/><use href="#c" x="513.8" y="980.9"/><use href="#c" x="513.8" y="983.4"/><use href="#c" x="531.0" y="980.9"/><use href="#c" x="531.0" y="982.2"/><use href="#c" x="531.0" y="983.8"/><use href="#c" x="531.0" y="985.0"/><use href="#c" x="540.6" y="991.2"/><use href="#c" x="540.6" y="988.5"/><use href="#c" x="540.6" y="992.4"/><use href="#c" x="540.6" y="985.3"/><use href="#c" x="549.8" y="983.1"/><use href="#c" x="549.8" y="989.1"/><use href="#c" x="552.7" y="984.3"/><use href="#c" x="552.7" y="991.9"/><use href="#c" x="552.7" y="986.5"/><use href="#c" x="552.7" y="989.4"/><use href="#c" x="552.7" y="987.2"/><use href="#c" x="552.7" y="989.5"/><use href="#c" x="552.7" y="985.6"/><use href="#c" x="552.7" y="991.9"/><use href="#c" x="561.3" y="988.3"/><use href="#c" x="561.3" y="990.2"/><use href="#c" x="561.3" y="997.5"/><use href="#c" x="561.3" y="992.7"/><use href="#c" x="572.3" y="986.8"/><use href="#c" x="572.3" y="991.6"/><use href="#c" x="574.9" y="988.1"/><use href="#c" x="574.9" y="986.5"/><use href="#c" x="574.9" y="990.9"/><use href="#c" x="574.9" y="996.3"/><use href="#c" x="577.5" y="992.7"/><use href="#c" x="577.5" y="994.5"/><use href="#c" x="577.5" y="990.7"/><use href="#c" x="577.5" y="988.6"/><use href="#c" x="592.4" y="984.9"/><use href="#c" x="592.4" y="989.8"/><use href="#c" x="592.4" y="985.9"/><use href="#c" x="592.4" y="986.5"/><use href="#c" x="594.7" y="999.1"/><use href="#c" x="594.7" y="991.6"/><use href="#c" x="597.1" y="1000.3"/><use href="#c" x="597.1" y="1000.0"/><use href="#c" x="597.1" y="995.3"/><use href="#c" x="597.1" y="1003.2"/><use href="#c" x="603.9" y="996.8"/><use href="#c" x="603.9" y="1011.5"/><use href="#c" x="603.9" y="1001.1"/><use href="#c" x="603.9" y="1000.3"/><use href="#c" x="603.9" y="1004.3"/><use href="#c" x="603.9" y="1008.4"/><use href="#c" x="603.9" y="1005.1"/><use href="#c" x="603.9" y="1002.9"/><use href="#c" x="612.7" y="999.0"/><use href="#c" x="612.7" y="1003.7"/><use href="#c" x="612.7" y="995.8"/><use href="#c" x="612.7" y="1011.3"/><use href="#c" x="614.8" y="996.9"/><use href="#c" x="614.8" y="989.8"/><use href="#c" x="614.8" y="1000.1"/><use href="#c" x="614.8" y="1004.5"/><use href="#c" x="629.1" y="997.2"/><use href="#c" x="629.1" y="997.9"/><use href="#c" x="629.1" y="998.6"/><use href="#c" x="629.1" y="1003.9"/><use href="#c" x="631.1" y="1002.8"/><use href="#c" x="631.1" y="1011.6"/><use href="#c" x="635.0" y="1007.4"/><use href="#c" x="635.0" y="1001.3"/><use href="#c" x="635.0" y="1011.7"/><use href="#c" x="635.0" y="1003.0"/><use href="#c" x="635.0" y="1005.4"/><use href="#c" x="635.0" y="1005.2"/><use href="#c" x="636.9" y="1012.5"/><use href="#c" x="636.9" y="1004.6"/><use href="#c" x="636.9" y="1006.7"/><use href="#c" x="636.9" y="1008.4"/><use href="#c" x="642.4" y="1006.9"/><use href="#c" x="642.4" y="1003.9"/><use href="#c" x="642.4" y="1011.9"/><use href="#c" x="642.4" y="1003.9"/><use href="#c" x="646.1" y="1010.7"/><use href="#c" x="646.1" y="1012.9"/><use href="#c" x="646.1" y="1015.1"/><use href="#c" x="646.1" y="1010.2"/><use href="#c" x="651.4" y="1008.6"/><use href="#c" x="651.4" y="1017.8"/><use href="#c" x="651.4" y="1003.6"/><use href="#c" x="651.4" y="1008.8"/><use href="#c" x="658.3" y="1008.0"/><use href="#c" x="658.3" y="1006.7"/><use href="#c" x="658.3" y="1015.0"/><use href="#c" x="658.3" y="1015.9"/><use href="#c" x="663.3" y="1010.9"/><use href="#c" x="663.3" y="1018.7"/><use href="#c" x="663.3" y="1015.5"/><use href="#c" x="663.3" y="1014.9"/><use href="#c" x="664.9" y="1009.8"/><use href="#c" x="664.9" y="1011.2"/><use href="#c" x="664.9" y="1010.6"/><use href="#c" x="664.9" y="1011.5"/><use href="#c" x="671.3" y="1014.2"/><use href="#c" x="671.3" y="1017.2"/><use href="#c" x="672.9" y="1012.8"/><use href="#c" x="672.9" y="1014.6"/><use href="#c" x="672.9" y="1019.6"/><use href="#c" x="672.9" y="1023.0"/><use href="#c" x="677.5" y="1017.5"/><use href="#c" x="677.5" y="1012.8"/><use href="#c" x="677.5" y="1019.0"/><use href="#c" x="677.5" y="1014.5"/><use href="#c" x="677.5" y="1017.9"/><use href="#c" x="677.5" y="1016.8"/><use href="#c" x="677.5" y="1014.7"/><use href="#c" x="677.5" y="1011.9"/><use href="#c" x="682.1" y="1019.7"/><use href="#c" x="682.1" y="1018.5"/><use href="#c" x="685.0" y="1023.5"/><use href="#c" x="685.0" y="1023.6"/><use href="#c" x="685.0" y="1020.0"/><use href="#c" x="685.0" y="1021.9"/><use href="#c" x="685.0" y="1022.0"/><use href="#c" x="685.0" y="1023.8"/><use href="#c" x="685.0" y="1020.8"/><use href="#c" x="685.0" y="1028.3"/><use href="#c" x="693.6" y="1029.6"/><use href="#c" x="693.6" y="1025.3"/><use href="#c" x="693.6" y="1027.8"/><use href="#c" x="693.6" y="1027.1"/><use href="#c" x="695.0" y="1022.2"/><use href="#c" x="695.0" y="1022.4"/><use href="#c" x="695.0" y="1023.7"/><use href="#c" x="695.0" y="1027.5"/><use href="#c" x="704.5" y="1032.9"/><use href="#c" x="704.5" y="1034.1"/><use href="#c" x="705.9" y="1025.0"/><use href="#c" x="705.9" y="1025.7"/><use href="#c" x="705.9" y="1027.2"/><use href="#c" x="705.9" y="1028.1"/><use href="#c" x="705.9" y="1030.6"/><use href="#c" x="705.9" y="1026.8"/><use href="#c" x="705.9" y="1030.0"/><use href="#c" x="705.9" y="1025.3"/><use href="#c" x="707.2" y="1032.0"/><use href="#c" x="707.2" y="1031.1"/><use href="#c" x="707.2" y="1020.5"/><use href="#c" x="707.2" y="1033.1"/><use href="#c" x="709.8" y="1033.7"/><use href="#c" x="709.8" y="1027.1"/><use href="#c" x="709.8" y="1034.8"/><use href="#c" x="709.8" y="1031.8"/><use href="#c" x="711.1" y="1026.6"/><use href="#c" x="711.1" y="1028.5"/><use href="#c" x="711.1" y="1031.5"/><use href="#c" x="711.1" y="1029.7"/><use href="#c" x="716.1" y="1027.6"/><use href="#c" x="716.1" y="1031.6"/><use href="#c" x="716.1" y="1032.7"/><use href="#c" x="716.1" y="1032.2"/><use href="#c" x="721.0" y="1029.7"/><use href="#c" x="721.0" y="1036.7"/><use href="#c" x="721.0" y="1031.9"/><use href="#c" x="721.0" y="1032.9"/><use href="#c" x="724.7" y="1034.9"/><use href="#c" x="724.7" y="1032.2"/><use href="#c" x="724.7" y="1030.1"/><use href="#c" x="724.7" y="1033.2"/><use href="#c" x="727.0" y="1033.3"/><use href="#c" x="727.0" y="1038.7"/><use href="#c" x="729.4" y="1035.7"/><use href="#c" x="729.4" y="1039.5"/><use href="#c" x="729.4" y="1041.0"/><use href="#c" x="729.4" y="1030.5"/><use href="#c" x="735.1" y="1041.7"/><use href="#c" x="735.1" y="1041.7"/><use href="#c" x="735.1" y="1047.3"/><use href="#c" x="735.1" y="1043.1"/><use href="#c" x="735.1" y="1041.5"/><use href="#c" x="735.1" y="1045.5"/><use href="#c" x="736.2" y="1031.4"/><use href="#c" x="736.2" y="1038.5"/><use href="#c" x="736.2" y="1039.4"/><use href="#c" x="736.2" y="1041.1"/><use href="#c" x="736.2" y="1035.1"/><use href="#c" x="736.2" y="1038.9"/><use href="#c" x="736.2" y="1043.2"/><use href="#c" x="736.2" y="1040.7"/><use href="#c" x="739.6" y="1045.7"/><use href="#c" x="739.6" y="1048.1"/><use href="#c" x="739.6" y="1043.5"/><use href="#c" x="739.6" y="1046.5"/><use href="#c" x="745.0" y="1043.0"/><use href="#c" x="745.0" y="1042.3"/><use href="#c" x="745.0" y="1046.1"/><use href="#c" x="745.0" y="1049.2"/><use href="#c" x="747.1" y="1045.2"/><use href="#c" x="747.1" y="1050.3"/><use href="#c" x="747.1" y="1046.3"/><use href="#c" x="747.1" y="1044.7"/><use href="#c" x="748.2" y="1040.3"/><use href="#c" x="748.2" y="1046.2"/><use href="#c" x="748.2" y="1041.0"/><use href="#c" x="748.2" y="1040.7"/><use href="#c" x="752.4" y="1051.7"/><use href="#c" x="752.4" y="1048.9"/><use href="#c" x="752.4" y="1049.9"/><use href="#c" x="752.4" y="1046.7"/><use href="#c" x="752.4" y="1049.8"/><use href="#c" x="752.4" y="1046.3"/><use href="#c" x="752.4" y="1047.3"/><use href="#c" x="752.4" y="1048.3"/><use href="#c" x="760.4" y="1057.0"/><use href="#c" x="760.4" y="1049.4"/><use href="#c" x="760.4" y="1056.2"/><use href="#c" x="760.4" y="1054.7"/><use href="#c" x="761.4" y="1053.4"/><use href="#c" x="761.4" y="1053.6"/><use href="#c" x="761.4" y="1052.5"/><use href="#c" x="761.4" y="1050.3"/><use href="#c" x="763.4" y="1055.5"/><use href="#c" x="763.4" y="1054.2"/><use href="#c" x="764.4" y="1057.6"/><use href="#c" x="764.4" y="1055.4"/><use href="#c" x="764.4" y="1053.7"/><use href="#c" x="764.4" y="1056.0"/><use href="#c" x="767.2" y="1055.9"/><use href="#c" x="767.2" y="1056.6"/><use href="#c" x="767.2" y="1053.2"/><use href="#c" x="767.2" y="1060.9"/><use href="#c" x="767.2" y="1055.7"/><use href="#c" x="767.2" y="1061.8"/><use href="#c" x="769.1" y="1058.5"/><use href="#c" x="769.1" y="1061.4"/><use href="#c" x="769.1" y="1058.1"/><use href="#c" x="769.1" y="1054.7"/><use href="#c" x="772.0" y="1058.2"/><use href="#c" x="772.0" y="1059.9"/><use href="#c" x="772.0" y="1058.9"/><use href="#c" x="772.0" y="1061.4"/><use href="#c" x="772.0" y="1061.9"/><use href="#c" x="772.0" y="1062.8"/><use href="#c" x="772.0" y="1062.3"/><use href="#c" x="772.0" y="1061.9"/><use href="#c" x="774.7" y="1062.6"/><use href="#c" x="774.7" y="1059.0"/><use href="#c" x="774.7" y="1059.8"/><use href="#c" x="774.7" y="1061.6"/><use href="#c" x="778.4" y="1065.9"/><use href="#c" x="778.4" y="1061.7"/><use href="#c" x="778.4" y="1063.9"/><use href="#c" x="778.4" y="1066.8"/><use href="#c" x="783.7" y="1068.6"/><use href="#c" x="783.7" y="1068.5"/><use href="#c" x="783.7" y="1062.2"/><use href="#c" x="783.7" y="1066.0"/><use href="#c" x="786.3" y="1069.0"/><use href="#c" x="786.3" y="1063.6"/><use href="#c" x="786.3" y="1065.6"/><use href="#c" x="786.3" y="1071.0"/><use href="#c" x="786.3" y="1068.0"/><use href="#c" x="786.3" y="1066.9"/><use href="#c" x="786.3" y="1065.6"/><use href="#c" x="786.3" y="1071.9"/><use href="#c" x="789.7" y="1072.4"/><use href="#c" x="789.7" y="1068.8"/><use href="#c" x="789.7" y="1071.3"/><use href="#c" x="789.7" y="1067.0"/><use href="#c" x="789.7" y="1072.4"/><use href="#c" x="789.7" y="1068.3"/><use href="#c" x="790.6" y="1067.7"/><use href="#c" x="790.6" y="1070.0"/><use href="#c" x="790.6" y="1072.3"/><use href="#c" x="790.6" y="1068.5"/><use href="#c" x="793.1" y="1073.4"/><use href="#c" x="793.1" y="1072.2"/><use href="#c" x="793.1" y="1071.5"/><use href="#c" x="793.1" y="1072.8"/><use href="#c" x="795.6" y="1071.3"/><use href="#c" x="795.6" y="1075.3"/><use href="#c" x="795.6" y="1069.7"/><use href="#c" x="795.6" y="1072.2"/><use href="#c" x="796.4" y="1073.6"/><use href="#c" x="796.4" y="1071.8"/><use href="#c" x="796.4" y="1068.9"/><use href="#c" x="796.4" y="1077.0"/><use href="#c" x="797.2" y="1076.3"/><use href="#c" x="797.2" y="1074.5"/><use href="#c" x="797.2" y="1074.5"/><use href="#c" x="797.2" y="1076.7"/><use href="#c" x="802.8" y="1073.6"/><use href="#c" x="802.8" y="1079.8"/><use href="#c" x="802.8" y="1070.8"/><use href="#c" x="802.8" y="1075.4"/><use href="#c" x="803.6" y="1073.9"/><use href="#c" x="803.6" y="1074.6"/><use href="#c" x="805.2" y="1080.0"/><use href="#c" x="805.2" y="1079.9"/><use href="#c" x="805.2" y="1078.8"/><use href="#c" x="805.2" y="1082.1"/><use href="#c" x="806.0" y="1077.8"/><use href="#c" x="806.0" y="1079.8"/><use href="#c" x="806.0" y="1077.8"/><use href="#c" x="806.0" y="1081.2"/><use href="#c" x="809.8" y="1083.3"/><use href="#c" x="809.8" y="1083.7"/><use href="#c" x="809.8" y="1081.6"/><use href="#c" x="809.8" y="1080.4"/><use href="#c" x="809.8" y="1077.3"/><use href="#c" x="809.8" y="1083.9"/><use href="#c" x="809.8" y="1080.9"/><use href="#c" x="809.8" y="1081.0"/><use href="#c" x="814.4" y="1085.6"/><use href="#c" x="814.4" y="1087.7"/><use href="#c" x="815.1" y="1085.2"/><use href="#c" x="815.1" y="1081.9"/><use href="#c" x="815.1" y="1083.3"/><use href="#c" x="815.1" y="1083.6"/><use href="#c" x="817.3" y="1090.4"/><use href="#c" x="817.3" y="1089.0"/><use href="#c" x="817.3" y="1086.3"/><use href="#c" x="817.3" y="1088.2"/><use href="#c" x="817.3" y="1085.7"/><use href="#c" x="817.3" y="1081.8"/><use href="#c" x="817.3" y="1084.9"/><use href="#c" x="817.3" y="1088.2"/><use href="#c" x="818.1" y="1087.5"/><use href="#c" x="818.1" y="1083.9"/><use href="#c" x="818.1" y="1088.5"/><use href="#c" x="818.1" y="1082.3"/><use href="#c" x="821.0" y="1087.5"/><use href="#c" x="821.0" y="1086.1"/><use href="#c" x="821.0" y="1087.8"/><use href="#c" x="821.0" y="1085.8"/><use href="#c" x="821.0" y="1087.9"/><use href="#c" x="821.0" y="1082.9"/><use href="#c" x="821.0" y="1088.8"/><use href="#c" x="821.0" y="1089.3"/><use href="#c" x="823.8" y="1098.7"/><use href="#c" x="823.8" y="1092.1"/><use href="#c" x="823.8" y="1093.2"/><use href="#c" x="823.8" y="1090.4"/><use href="#c" x="825.9" y="1091.9"/><use href="#c" x="825.9" y="1097.1"/><use href="#c" x="825.9" y="1094.4"/><use href="#c" x="825.9" y="1092.4"/><use href="#c" x="827.3" y="1094.4"/><use href="#c" x="827.3" y="1094.9"/><use href="#c" x="827.3" y="1094.7"/><use href="#c" x="827.3" y="1093.2"/><use href="#c" x="829.4" y="1094.2"/><use href="#c" x="829.4" y="1099.9"/><use href="#c" x="829.4" y="1095.9"/><use href="#c" x="829.4" y="1091.6"/><use href="#c" x="832.1" y="1092.0"/><use href="#c" x="832.1" y="1090.9"/><use href="#c" x="832.1" y="1090.5"/><use href="#c" x="832.1" y="1097.7"/><use href="#c" x="836.8" y="1104.2"/><use href="#c" x="836.8" y="1103.2"/><use href="#c" x="837.5" y="1099.3"/><use href="#c" x="837.5" y="1101.7"/><use href="#c" x="837.5" y="1106.8"/><use href="#c" x="837.5" y="1103.4"/><use href="#c" x="837.5" y="1104.5"/><use href="#c" x="837.5" y="1098.2"/><use href="#c" x="838.2" y="1095.9"/><use href="#c" x="838.2" y="1099.9"/><use href="#c" x="838.2" y="1099.7"/><use href="#c" x="838.2" y="1103.1"/><use href="#c" x="838.2" y="1101.8"/><use href="#c" x="838.2" y="1105.8"/><use href="#c" x="838.2" y="1101.4"/><use href="#c" x="838.2" y="1104.3"/></g>
<path d="M309.82 951.36L726.61 1014.71M707.22 1016.70L726.61 1014.71L708.68 1007.05" stroke="#000" stroke-width="1.8" fill="none" stroke-linejoin="miter" stroke-miterlimit="10"/>
<rect x="200.00" y="948.30" width="639.00" height="200.40" fill="none" stroke="#000" stroke-width="2"/>
<text transform="translate(264.50 1138.70) scale(0.981 1)" font-size="32.0" text-anchor="start" class="t">std = 0.53 log(m)</text>
<text transform="translate(204.40 1190.40) scale(0.981 1)" font-size="32.0" text-anchor="middle" class="t">800</text>
<text transform="translate(314.22 1190.40) scale(0.981 1)" font-size="32.0" text-anchor="middle" class="t">600</text>
<text transform="translate(468.99 1190.40) scale(0.981 1)" font-size="32.0" text-anchor="middle" class="t">400</text>
<text transform="translate(733.58 1190.40) scale(0.981 1)" font-size="32.0" text-anchor="middle" class="t">200</text>
<text transform="translate(520.30 1237.60) scale(0.981 1)" font-size="32.0" text-anchor="middle" class="t">Wavelength (m)</text>
<text transform="translate(519.50 912.00) scale(0.981 1)" font-size="32.0" text-anchor="middle" class="t">log(<tspan font-style="italic">Dc</tspan>)</text>
<text transform="translate(181.40 958.50) scale(0.981 1)" font-size="32.0" text-anchor="end" class="t">10000</text>
<text transform="translate(181.40 1025.30) scale(0.981 1)" font-size="32.0" text-anchor="end" class="t">1000</text>
<text transform="translate(181.40 1092.10) scale(0.981 1)" font-size="32.0" text-anchor="end" class="t">100</text>
<text transform="translate(181.40 1158.90) scale(0.981 1)" font-size="32.0" text-anchor="end" class="t">10</text>
<text transform="translate(51.50 1047.80) rotate(-90) scale(0.981 1)" font-size="32.0" text-anchor="middle" class="t">PSD (log(m)<tspan dy="-15" font-size="25.6">2</tspan><tspan dy="15">.m)</tspan></text>
<path d="M1212.72 1148.70v-10.1M1212.72 948.30v10.1M1367.49 1148.70v-10.1M1367.49 948.30v10.1M1632.08 1148.70v-10.1M1632.08 948.30v10.1M1102.90 1148.70h9.9M1741.90 1148.70h-9.9M1102.90 1128.59h4.9M1741.90 1128.59h-4.9M1102.90 1116.83h4.9M1741.90 1116.83h-4.9M1102.90 1108.48h4.9M1741.90 1108.48h-4.9M1102.90 1102.01h4.9M1741.90 1102.01h-4.9M1102.90 1096.72h4.9M1741.90 1096.72h-4.9M1102.90 1092.25h4.9M1741.90 1092.25h-4.9M1102.90 1088.37h4.9M1741.90 1088.37h-4.9M1102.90 1084.96h4.9M1741.90 1084.96h-4.9M1102.90 1081.90h9.9M1741.90 1081.90h-9.9M1102.90 1061.79h4.9M1741.90 1061.79h-4.9M1102.90 1050.03h4.9M1741.90 1050.03h-4.9M1102.90 1041.68h4.9M1741.90 1041.68h-4.9M1102.90 1035.21h4.9M1741.90 1035.21h-4.9M1102.90 1029.92h4.9M1741.90 1029.92h-4.9M1102.90 1025.45h4.9M1741.90 1025.45h-4.9M1102.90 1021.57h4.9M1741.90 1021.57h-4.9M1102.90 1018.16h4.9M1741.90 1018.16h-4.9M1102.90 1015.10h9.9M1741.90 1015.10h-9.9M1102.90 994.99h4.9M1741.90 994.99h-4.9M1102.90 983.23h4.9M1741.90 983.23h-4.9M1102.90 974.88h4.9M1741.90 974.88h-4.9M1102.90 968.41h4.9M1741.90 968.41h-4.9M1102.90 963.12h4.9M1741.90 963.12h-4.9M1102.90 958.65h4.9M1741.90 958.65h-4.9M1102.90 954.77h4.9M1741.90 954.77h-4.9M1102.90 951.36h4.9M1741.90 951.36h-4.9M1102.90 948.30h9.9M1741.90 948.30h-9.9" stroke="#000" stroke-width="1" fill="none"/>
<g><use href="#c" x="1148.4" y="963.3"/><use href="#c" x="1148.4" y="963.9"/><use href="#c" x="1148.4" y="964.7"/><use href="#c" x="1148.4" y="965.5"/><use href="#c" x="1188.1" y="969.6"/><use href="#c" x="1188.1" y="977.0"/><use href="#c" x="1199.7" y="966.3"/><use href="#c" x="1199.7" y="968.2"/><use href="#c" x="1199.7" y="970.2"/><use href="#c" x="1199.7" y="973.7"/><use href="#c" x="1210.6" y="969.2"/><use href="#c" x="1210.6" y="977.0"/><use href="#c" x="1230.7" y="964.3"/><use href="#c" x="1230.7" y="966.7"/><use href="#c" x="1230.7" y="968.6"/><use href="#c" x="1230.7" y="970.5"/><use href="#c" x="1273.3" y="970.2"/><use href="#c" x="1273.3" y="971.7"/><use href="#c" x="1273.3" y="973.1"/><use href="#c" x="1273.3" y="975.0"/><use href="#c" x="1273.3" y="980.9"/><use href="#c" x="1273.3" y="984.8"/><use href="#c" x="1280.7" y="969.2"/><use href="#c" x="1280.7" y="970.2"/><use href="#c" x="1280.7" y="975.0"/><use href="#c" x="1280.7" y="976.0"/><use href="#c" x="1301.6" y="964.7"/><use href="#c" x="1301.6" y="972.1"/><use href="#c" x="1301.6" y="974.4"/><use href="#c" x="1301.6" y="976.0"/><use href="#c" x="1320.4" y="984.8"/><use href="#c" x="1320.4" y="992.6"/><use href="#c" x="1331.9" y="975.0"/><use href="#c" x="1331.9" y="975.6"/><use href="#c" x="1331.9" y="976.4"/><use href="#c" x="1331.9" y="984.8"/><use href="#c" x="1342.9" y="986.7"/><use href="#c" x="1342.9" y="987.7"/><use href="#c" x="1348.1" y="973.1"/><use href="#c" x="1348.1" y="977.9"/><use href="#c" x="1348.1" y="979.9"/><use href="#c" x="1348.1" y="987.3"/><use href="#c" x="1363.0" y="975.0"/><use href="#c" x="1363.0" y="978.9"/><use href="#c" x="1363.0" y="981.8"/><use href="#c" x="1363.0" y="984.8"/><use href="#c" x="1367.7" y="980.9"/><use href="#c" x="1367.7" y="982.2"/><use href="#c" x="1367.7" y="983.4"/><use href="#c" x="1367.7" y="994.5"/><use href="#c" x="1385.4" y="983.4"/><use href="#c" x="1385.4" y="985.3"/><use href="#c" x="1385.4" y="987.3"/><use href="#c" x="1385.4" y="989.6"/><use href="#c" x="1401.7" y="990.0"/><use href="#c" x="1401.7" y="996.4"/><use href="#c" x="1405.6" y="979.9"/><use href="#c" x="1405.6" y="984.8"/><use href="#c" x="1405.6" y="986.7"/><use href="#c" x="1405.6" y="988.7"/><use href="#c" x="1405.6" y="990.6"/><use href="#c" x="1405.6" y="1004.8"/><use href="#c" x="1413.0" y="981.8"/><use href="#c" x="1413.0" y="984.8"/><use href="#c" x="1413.0" y="986.7"/><use href="#c" x="1413.0" y="994.5"/><use href="#c" x="1416.7" y="979.9"/><use href="#c" x="1416.7" y="982.8"/><use href="#c" x="1416.7" y="985.7"/><use href="#c" x="1416.7" y="1005.6"/><use href="#c" x="1433.9" y="985.7"/><use href="#c" x="1433.9" y="990.0"/><use href="#c" x="1433.9" y="994.5"/><use href="#c" x="1433.9" y="999.4"/><use href="#c" x="1443.5" y="994.6"/><use href="#c" x="1443.5" y="996.6"/><use href="#c" x="1443.5" y="996.8"/><use href="#c" x="1443.5" y="997.2"/><use href="#c" x="1452.7" y="989.3"/><use href="#c" x="1452.7" y="1003.1"/><use href="#c" x="1455.6" y="984.3"/><use href="#c" x="1455.6" y="996.8"/><use href="#c" x="1455.6" y="989.1"/><use href="#c" x="1455.6" y="996.0"/><use href="#c" x="1455.6" y="984.4"/><use href="#c" x="1455.6" y="997.9"/><use href="#c" x="1455.6" y="991.5"/><use href="#c" x="1455.6" y="992.3"/><use href="#c" x="1464.2" y="999.1"/><use href="#c" x="1464.2" y="988.3"/><use href="#c" x="1464.2" y="999.8"/><use href="#c" x="1464.2" y="992.5"/><use href="#c" x="1475.2" y="1001.7"/><use href="#c" x="1475.2" y="990.9"/><use href="#c" x="1477.8" y="993.8"/><use href="#c" x="1477.8" y="991.0"/><use href="#c" x="1477.8" y="995.7"/><use href="#c" x="1477.8" y="997.0"/><use href="#c" x="1480.4" y="995.7"/><use href="#c" x="1480.4" y="1008.4"/><use href="#c" x="1480.4" y="1004.0"/><use href="#c" x="1480.4" y="989.2"/><use href="#c" x="1495.3" y="997.1"/><use href="#c" x="1495.3" y="1004.1"/><use href="#c" x="1495.3" y="1006.6"/><use href="#c" x="1495.3" y="1008.5"/><use href="#c" x="1497.6" y="1004.0"/><use href="#c" x="1497.6" y="994.6"/><use href="#c" x="1500.0" y="1003.5"/><use href="#c" x="1500.0" y="1007.2"/><use href="#c" x="1500.0" y="1005.7"/><use href="#c" x="1500.0" y="994.4"/><use href="#c" x="1506.8" y="1002.5"/><use href="#c" x="1506.8" y="1012.1"/><use href="#c" x="1506.8" y="1005.7"/><use href="#c" x="1506.8" y="1003.9"/><use href="#c" x="1506.8" y="1003.4"/><use href="#c" x="1506.8" y="999.2"/><use href="#c" x="1506.8" y="1000.5"/><use href="#c" x="1506.8" y="1003.8"/><use href="#c" x="1515.6" y="1001.9"/><use href="#c" x="1515.6" y="999.7"/><use href="#c" x="1515.6" y="1006.7"/><use href="#c" x="1515.6" y="1002.6"/><use href="#c" x="1517.7" y="1008.1"/><use href="#c" x="1517.7" y="1005.1"/><use href="#c" x="1517.7" y="1007.0"/><use href="#c" x="1517.7" y="1002.0"/><use href="#c" x="1532.0" y="1015.2"/><use href="#c" x="1532.0" y="1013.3"/><use href="#c" x="1532.0" y="1016.6"/><use href="#c" x="1532.0" y="1014.7"/><use href="#c" x="1534.0" y="1014.0"/><use href="#c" x="1534.0" y="1009.8"/><use href="#c" x="1537.9" y="1022.4"/><use href="#c" x="1537.9" y="1019.3"/><use href="#c" x="1537.9" y="1016.2"/><use href="#c" x="1537.9" y="1015.9"/><use href="#c" x="1537.9" y="1021.4"/><use href="#c" x="1537.9" y="1018.2"/><use href="#c" x="1539.8" y="1016.5"/><use href="#c" x="1539.8" y="1020.1"/><use href="#c" x="1539.8" y="1014.4"/><use href="#c" x="1539.8" y="1012.4"/><use href="#c" x="1545.3" y="1025.5"/><use href="#c" x="1545.3" y="1021.8"/><use href="#c" x="1545.3" y="1024.4"/><use href="#c" x="1545.3" y="1013.4"/><use href="#c" x="1549.0" y="1020.7"/><use href="#c" x="1549.0" y="1014.3"/><use href="#c" x="1549.0" y="1017.0"/><use href="#c" x="1549.0" y="1012.2"/><use href="#c" x="1554.3" y="1017.4"/><use href="#c" x="1554.3" y="1018.3"/><use href="#c" x="1554.3" y="1009.9"/><use href="#c" x="1554.3" y="1018.3"/><use href="#c" x="1561.2" y="1020.9"/><use href="#c" x="1561.2" y="1009.0"/><use href="#c" x="1561.2" y="1018.6"/><use href="#c" x="1561.2" y="1023.4"/><use href="#c" x="1566.2" y="1015.4"/><use href="#c" x="1566.2" y="1013.6"/><use href="#c" x="1566.2" y="1017.9"/><use href="#c" x="1566.2" y="1008.1"/><use href="#c" x="1567.8" y="1021.1"/><use href="#c" x="1567.8" y="1026.9"/><use href="#c" x="1567.8" y="1017.8"/><use href="#c" x="1567.8" y="1014.7"/><use href="#c" x="1574.2" y="1026.8"/><use href="#c" x="1574.2" y="1020.6"/><use href="#c" x="1575.8" y="1020.9"/><use href="#c" x="1575.8" y="1032.6"/><use href="#c" x="1575.8" y="1027.2"/><use href="#c" x="1575.8" y="1023.1"/><use href="#c" x="1580.4" y="1025.9"/><use href="#c" x="1580.4" y="1029.3"/><use href="#c" x="1580.4" y="1022.6"/><use href="#c" x="1580.4" y="1033.1"/><use href="#c" x="1580.4" y="1034.6"/><use href="#c" x="1580.4" y="1019.9"/><use href="#c" x="1580.4" y="1031.8"/><use href="#c" x="1580.4" y="1025.6"/><use href="#c" x="1585.0" y="1030.3"/><use href="#c" x="1585.0" y="1040.7"/><use href="#c" x="1587.9" y="1033.2"/><use href="#c" x="1587.9" y="1032.8"/><use href="#c" x="1587.9" y="1033.1"/><use href="#c" x="1587.9" y="1031.3"/><use href="#c" x="1587.9" y="1025.8"/><use href="#c" x="1587.9" y="1027.4"/><use href="#c" x="1587.9" y="1026.8"/><use href="#c" x="1587.9" y="1022.8"/><use href="#c" x="1596.5" y="1030.5"/><use href="#c" x="1596.5" y="1030.4"/><use href="#c" x="1596.5" y="1031.6"/><use href="#c" x="1596.5" y="1022.2"/><use href="#c" x="1597.9" y="1039.2"/><use href="#c" x="1597.9" y="1031.3"/><use href="#c" x="1597.9" y="1030.5"/><use href="#c" x="1597.9" y="1042.1"/><use href="#c" x="1607.4" y="1038.1"/><use href="#c" x="1607.4" y="1026.9"/><use href="#c" x="1608.8" y="1041.0"/><use href="#c" x="1608.8" y="1036.7"/><use href="#c" x="1608.8" y="1040.4"/><use href="#c" x="1608.8" y="1044.6"/><use href="#c" x="1608.8" y="1037.2"/><use href="#c" x="1608.8" y="1037.8"/><use href="#c" x="1608.8" y="1040.8"/><use href="#c" x="1608.8" y="1032.3"/><use href="#c" x="1610.1" y="1034.4"/><use href="#c" x="1610.1" y="1035.8"/><use href="#c" x="1610.1" y="1034.6"/><use href="#c" x="1610.1" y="1036.2"/><use href="#c" x="1612.7" y="1036.3"/><use href="#c" x="1612.7" y="1034.1"/><use href="#c" x="1612.7" y="1035.1"/><use href="#c" x="1612.7" y="1034.4"/><use href="#c" x="1614.0" y="1037.2"/><use href="#c" x="1614.0" y="1030.1"/><use href="#c" x="1614.0" y="1034.5"/><use href="#c" x="1614.0" y="1032.2"/><use href="#c" x="1619.0" y="1037.2"/><use href="#c" x="1619.0" y="1040.1"/><use href="#c" x="1619.0" y="1038.5"/><use href="#c" x="1619.0" y="1035.4"/><use href="#c" x="1623.9" y="1050.1"/><use href="#c" x="1623.9" y="1049.7"/><use href="#c" x="1623.9" y="1046.4"/><use href="#c" x="1623.9" y="1039.0"/><use href="#c" x="1627.6" y="1042.9"/><use href="#c" x="1627.6" y="1040.5"/><use href="#c" x="1627.6" y="1046.4"/><use href="#c" x="1627.6" y="1044.1"/><use href="#c" x="1629.9" y="1060.6"/><use href="#c" x="1629.9" y="1053.9"/><use href="#c" x="1632.3" y="1051.4"/><use href="#c" x="1632.3" y="1054.1"/><use href="#c" x="1632.3" y="1045.4"/><use href="#c" x="1632.3" y="1047.4"/><use href="#c" x="1638.0" y="1049.4"/><use href="#c" x="1638.0" y="1052.9"/><use href="#c" x="1638.0" y="1050.1"/><use href="#c" x="1638.0" y="1058.8"/><use href="#c" x="1638.0" y="1054.0"/><use href="#c" x="1638.0" y="1050.1"/><use href="#c" x="1639.1" y="1053.9"/><use href="#c" x="1639.1" y="1053.6"/><use href="#c" x="1639.1" y="1049.6"/><use href="#c" x="1639.1" y="1049.5"/><use href="#c" x="1639.1" y="1050.8"/><use href="#c" x="1639.1" y="1052.9"/><use href="#c" x="1639.1" y="1053.2"/><use href="#c" x="1639.1" y="1055.2"/><use href="#c" x="1642.5" y="1052.4"/><use href="#c" x="1642.5" y="1062.0"/><use href="#c" x="1642.5" y="1054.7"/><use href="#c" x="1642.5" y="1057.3"/><use href="#c" x="1647.9" y="1056.5"/><use href="#c" x="1647.9" y="1057.2"/><use href="#c" x="1647.9" y="1057.1"/><use href="#c" x="1647.9" y="1056.9"/><use href="#c" x="1650.0" y="1061.3"/><use href="#c" x="1650.0" y="1056.4"/><use href="#c" x="1650.0" y="1055.6"/><use href="#c" x="1650.0" y="1052.2"/><use href="#c" x="1651.1" y="1059.8"/><use href="#c" x="1651.1" y="1061.8"/><use href="#c" x="1651.1" y="1059.6"/><use href="#c" x="1651.1" y="1056.5"/><use href="#c" x="1655.3" y="1061.5"/><use href="#c" x="1655.3" y="1062.2"/><use href="#c" x="1655.3" y="1058.7"/><use href="#c" x="1655.3" y="1059.9"/><use href="#c" x="1655.3" y="1071.7"/><use href="#c" x="1655.3" y="1064.2"/><use href="#c" x="1655.3" y="1061.4"/><use href="#c" x="1655.3" y="1054.4"/><use href="#c" x="1663.3" y="1064.2"/><use href="#c" x="1663.3" y="1059.4"/><use href="#c" x="1663.3" y="1060.6"/><use href="#c" x="1663.3" y="1066.4"/><use href="#c" x="1664.3" y="1061.8"/><use href="#c" x="1664.3" y="1062.8"/><use href="#c" x="1664.3" y="1063.2"/><use href="#c" x="1664.3" y="1057.6"/><use href="#c" x="1666.3" y="1067.5"/><use href="#c" x="1666.3" y="1067.6"/><use href="#c" x="1667.3" y="1059.7"/><use href="#c" x="1667.3" y="1061.7"/><use href="#c" x="1667.3" y="1071.1"/><use href="#c" x="1667.3" y="1057.4"/><use href="#c" x="1670.1" y="1073.4"/><use href="#c" x="1670.1" y="1072.8"/><use href="#c" x="1670.1" y="1069.8"/><use href="#c" x="1670.1" y="1076.7"/><use href="#c" x="1670.1" y="1063.2"/><use href="#c" x="1670.1" y="1065.1"/><use href="#c" x="1672.0" y="1071.1"/><use href="#c" x="1672.0" y="1067.2"/><use href="#c" x="1672.0" y="1080.8"/><use href="#c" x="1672.0" y="1074.3"/><use href="#c" x="1674.9" y="1075.3"/><use href="#c" x="1674.9" y="1069.0"/><use href="#c" x="1674.9" y="1072.9"/><use href="#c" x="1674.9" y="1063.9"/><use href="#c" x="1674.9" y="1073.5"/><use href="#c" x="1674.9" y="1077.4"/><use href="#c" x="1674.9" y="1075.0"/><use href="#c" x="1674.9" y="1068.8"/><use href="#c" x="1677.6" y="1071.8"/><use href="#c" x="1677.6" y="1067.3"/><use href="#c" x="1677.6" y="1074.0"/><use href="#c" x="1677.6" y="1067.5"/><use href="#c" x="1681.3" y="1079.9"/><use href="#c" x="1681.3" y="1073.9"/><use href="#c" x="1681.3" y="1068.3"/><use href="#c" x="1681.3" y="1077.8"/><use href="#c" x="1686.6" y="1074.4"/><use href="#c" x="1686.6" y="1078.1"/><use href="#c" x="1686.6" y="1079.9"/><use href="#c" x="1686.6" y="1081.7"/><use href="#c" x="1689.2" y="1082.3"/><use href="#c" x="1689.2" y="1077.6"/><use href="#c" x="1689.2" y="1079.0"/><use href="#c" x="1689.2" y="1073.1"/><use href="#c" x="1689.2" y="1077.4"/><use href="#c" x="1689.2" y="1078.8"/><use href="#c" x="1689.2" y="1077.9"/><use href="#c" x="1689.2" y="1076.7"/><use href="#c" x="1692.6" y="1070.7"/><use href="#c" x="1692.6" y="1086.4"/><use href="#c" x="1692.6" y="1086.8"/><use href="#c" x="1692.6" y="1073.4"/><use href="#c" x="1692.6" y="1080.9"/><use href="#c" x="1692.6" y="1076.3"/><use href="#c" x="1693.5" y="1095.9"/><use href="#c" x="1693.5" y="1079.2"/><use href="#c" x="1693.5" y="1083.0"/><use href="#c" x="1693.5" y="1087.6"/><use href="#c" x="1696.0" y="1090.1"/><use href="#c" x="1696.0" y="1077.8"/><use href="#c" x="1696.0" y="1087.1"/><use href="#c" x="1696.0" y="1085.4"/><use href="#c" x="1698.5" y="1087.8"/><use href="#c" x="1698.5" y="1091.7"/><use href="#c" x="1698.5" y="1085.6"/><use href="#c" x="1698.5" y="1083.2"/><use href="#c" x="1699.3" y="1086.9"/><use href="#c" x="1699.3" y="1083.0"/><use href="#c" x="1699.3" y="1088.7"/><use href="#c" x="1699.3" y="1083.8"/><use href="#c" x="1700.1" y="1085.0"/><use href="#c" x="1700.1" y="1088.6"/><use href="#c" x="1700.1" y="1087.6"/><use href="#c" x="1700.1" y="1085.7"/><use href="#c" x="1705.7" y="1085.9"/><use href="#c" x="1705.7" y="1092.4"/><use href="#c" x="1705.7" y="1089.4"/><use href="#c" x="1705.7" y="1096.5"/><use href="#c" x="1706.5" y="1086.8"/><use href="#c" x="1706.5" y="1093.6"/><use href="#c" x="1708.1" y="1094.7"/><use href="#c" x="1708.1" y="1089.6"/><use href="#c" x="1708.1" y="1095.5"/><use href="#c" x="1708.1" y="1093.7"/><use href="#c" x="1708.9" y="1091.0"/><use href="#c" x="1708.9" y="1087.6"/><use href="#c" x="1708.9" y="1090.1"/><use href="#c" x="1708.9" y="1088.7"/><use href="#c" x="1712.7" y="1088.8"/><use href="#c" x="1712.7" y="1097.2"/><use href="#c" x="1712.7" y="1094.0"/><use href="#c" x="1712.7" y="1096.4"/><use href="#c" x="1712.7" y="1094.3"/><use href="#c" x="1712.7" y="1092.2"/><use href="#c" x="1712.7" y="1095.5"/><use href="#c" x="1712.7" y="1087.9"/><use href="#c" x="1717.3" y="1094.9"/><use href="#c" x="1717.3" y="1102.3"/><use href="#c" x="1718.0" y="1089.6"/><use href="#c" x="1718.0" y="1100.2"/><use href="#c" x="1718.0" y="1102.5"/><use href="#c" x="1718.0" y="1105.0"/><use href="#c" x="1720.2" y="1105.6"/><use href="#c" x="1720.2" y="1101.1"/><use href="#c" x="1720.2" y="1101.5"/><use href="#c" x="1720.2" y="1101.1"/><use href="#c" x="1720.2" y="1096.2"/><use href="#c" x="1720.2" y="1103.2"/><use href="#c" x="1720.2" y="1103.9"/><use href="#c" x="1720.2" y="1093.3"/><use href="#c" x="1721.0" y="1102.0"/><use href="#c" x="1721.0" y="1104.4"/><use href="#c" x="1721.0" y="1097.8"/><use href="#c" x="1721.0" y="1106.5"/><use href="#c" x="1723.9" y="1109.5"/><use href="#c" x="1723.9" y="1106.8"/><use href="#c" x="1723.9" y="1103.9"/><use href="#c" x="1723.9" y="1105.3"/><use href="#c" x="1723.9" y="1102.9"/><use href="#c" x="1723.9" y="1109.5"/><use href="#c" x="1723.9" y="1101.5"/><use href="#c" x="1723.9" y="1108.2"/><use href="#c" x="1726.7" y="1105.9"/><use href="#c" x="1726.7" y="1112.0"/><use href="#c" x="1726.7" y="1105.0"/><use href="#c" x="1726.7" y="1103.7"/><use href="#c" x="1728.8" y="1109.0"/><use href="#c" x="1728.8" y="1104.9"/><use href="#c" x="1728.8" y="1104.6"/><use href="#c" x="1728.8" y="1106.8"/><use href="#c" x="1730.2" y="1109.9"/><use href="#c" x="1730.2" y="1119.2"/><use href="#c" x="1730.2" y="1110.0"/><use href="#c" x="1730.2" y="1116.2"/><use href="#c" x="1732.3" y="1110.2"/><use href="#c" x="1732.3" y="1115.8"/><use href="#c" x="1732.3" y="1113.0"/><use href="#c" x="1732.3" y="1118.9"/><use href="#c" x="1735.0" y="1112.0"/><use href="#c" x="1735.0" y="1119.7"/><use href="#c" x="1735.0" y="1110.9"/><use href="#c" x="1735.0" y="1123.4"/><use href="#c" x="1739.7" y="1125.4"/><use href="#c" x="1739.7" y="1121.3"/><use href="#c" x="1740.4" y="1123.1"/><use href="#c" x="1740.4" y="1124.6"/><use href="#c" x="1740.4" y="1128.8"/><use href="#c" x="1740.4" y="1126.4"/><use href="#c" x="1740.4" y="1113.1"/><use href="#c" x="1740.4" y="1122.7"/><use href="#c" x="1741.1" y="1112.8"/><use href="#c" x="1741.1" y="1110.5"/><use href="#c" x="1741.1" y="1121.5"/><use href="#c" x="1741.1" y="1109.0"/><use href="#c" x="1741.1" y="1113.8"/><use href="#c" x="1741.1" y="1111.6"/><use href="#c" x="1741.1" y="1114.6"/><use href="#c" x="1741.1" y="1113.6"/></g>
<path d="M1212.72 951.36L1629.51 1014.71M1610.12 1016.70L1629.51 1014.71L1611.58 1007.05" stroke="#000" stroke-width="1.8" fill="none" stroke-linejoin="miter" stroke-miterlimit="10"/>
<rect x="1102.90" y="948.30" width="639.00" height="200.40" fill="none" stroke="#000" stroke-width="2"/>
<text transform="translate(1167.40 1138.70) scale(0.981 1)" font-size="32.0" text-anchor="start" class="t">std = 0.46 log(m)</text>
<text transform="translate(1107.30 1190.40) scale(0.981 1)" font-size="32.0" text-anchor="middle" class="t">800</text>
<text transform="translate(1217.12 1190.40) scale(0.981 1)" font-size="32.0" text-anchor="middle" class="t">600</text>
<text transform="translate(1371.89 1190.40) scale(0.981 1)" font-size="32.0" text-anchor="middle" class="t">400</text>
<text transform="translate(1636.48 1190.40) scale(0.981 1)" font-size="32.0" text-anchor="middle" class="t">200</text>
<text transform="translate(1423.20 1237.60) scale(0.981 1)" font-size="32.0" text-anchor="middle" class="t">Wavelength (m)</text>
<text transform="translate(1422.40 912.00) scale(0.981 1)" font-size="32.0" text-anchor="middle" class="t">log(<tspan font-style="italic">Dc</tspan>)</text>
<text transform="translate(1082.90 958.50) scale(0.981 1)" font-size="32.0" text-anchor="end" class="t">10000</text>
<text transform="translate(1082.90 1025.30) scale(0.981 1)" font-size="32.0" text-anchor="end" class="t">1000</text>
<text transform="translate(1082.90 1092.10) scale(0.981 1)" font-size="32.0" text-anchor="end" class="t">100</text>
<text transform="translate(1082.90 1158.90) scale(0.981 1)" font-size="32.0" text-anchor="end" class="t">10</text>
<text transform="translate(954.40 1047.80) rotate(-90) scale(0.981 1)" font-size="32.0" text-anchor="middle" class="t">PSD (log(m)<tspan dy="-15" font-size="25.6">2</tspan><tspan dy="15">.m)</tspan></text>
</svg>
</body></html>
